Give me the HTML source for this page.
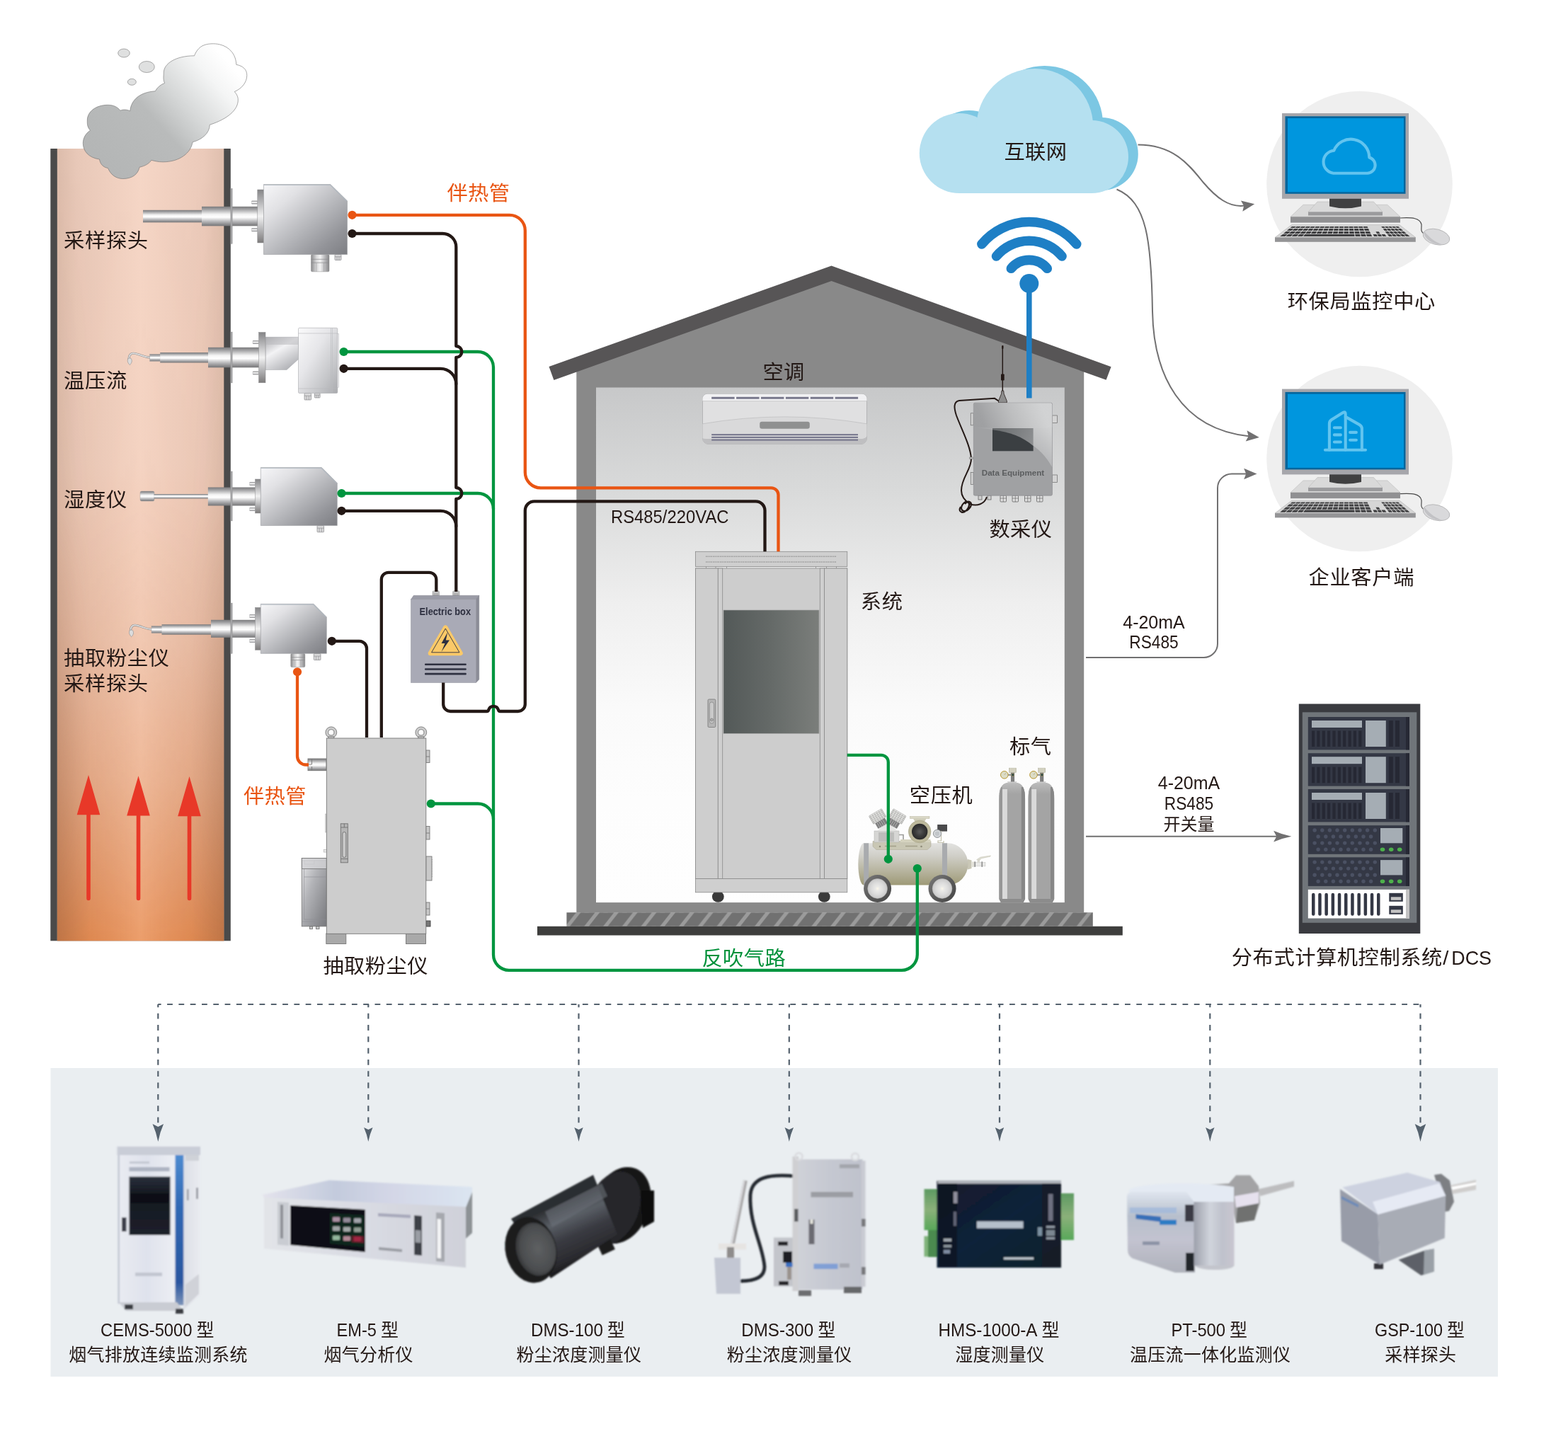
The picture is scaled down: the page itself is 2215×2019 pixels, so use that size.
<!DOCTYPE html>
<html lang="zh-CN">
<head>
<meta charset="utf-8">
<title>CEMS 烟气排放连续监测系统</title>
<style>
html,body{margin:0;padding:0;background:#fff;}
body{width:2215px;height:2019px;overflow:hidden;font-family:"Liberation Sans","Noto Sans CJK SC",sans-serif;}
svg{display:block;}
text{font-family:"Liberation Sans","Noto Sans CJK SC",sans-serif;fill:#231815;}
.t30{font-size:30px;}
.t25{font-size:25px;}
.t24{font-size:24px;}
.o{fill:#e95513;}
.g{fill:#00913a;}
.lk{fill:none;stroke:#231815;stroke-width:4.3;stroke-linecap:round;stroke-linejoin:round;}
.lg{fill:none;stroke:#00953f;stroke-width:4.3;stroke-linecap:round;stroke-linejoin:round;}
.lo{fill:none;stroke:#e95513;stroke-width:4.3;stroke-linecap:round;stroke-linejoin:round;}
.la{fill:none;stroke:#717071;stroke-width:2;}
.ld{fill:none;stroke:#55626e;stroke-width:2.2;stroke-dasharray:7.8 8.5;stroke-dashoffset:3.5;}
</style>
</head>
<body>
<svg width="2215" height="2019" viewBox="0 0 2215 2019">
<defs>
<linearGradient id="chH" x1="0" y1="0" x2="1" y2="0">
<stop offset="0" stop-color="#dcbcab"/><stop offset="0.12" stop-color="#e8c8b8"/><stop offset="0.5" stop-color="#f5d6c6"/><stop offset="0.88" stop-color="#ebcaba"/><stop offset="1" stop-color="#dfbfae"/></linearGradient>
<linearGradient id="chV" x1="0" y1="0" x2="0" y2="1">
<stop offset="0" stop-color="#e0793a" stop-opacity="0"/><stop offset="0.4" stop-color="#e0793a" stop-opacity="0.03"/><stop offset="0.62" stop-color="#e07a3c" stop-opacity="0.17"/><stop offset="0.8" stop-color="#e27a38" stop-opacity="0.38"/><stop offset="0.92" stop-color="#e47a36" stop-opacity="0.6"/><stop offset="1" stop-color="#e67a32" stop-opacity="0.75"/></linearGradient>
<linearGradient id="chE" x1="0" y1="0" x2="1" y2="0">
<stop offset="0" stop-color="#7a4a30" stop-opacity="0.35"/><stop offset="0.2" stop-color="#7a4a30" stop-opacity="0.08"/><stop offset="0.5" stop-color="#fff" stop-opacity="0.12"/><stop offset="0.8" stop-color="#7a4a30" stop-opacity="0.08"/><stop offset="1" stop-color="#7a4a30" stop-opacity="0.35"/></linearGradient>
<linearGradient id="chM" x1="0" y1="0" x2="0" y2="1"><stop offset="0" stop-color="#fff" stop-opacity="0"/><stop offset="0.45" stop-color="#fff" stop-opacity="0.1"/><stop offset="1" stop-color="#fff" stop-opacity="1"/></linearGradient>
<mask id="chMask"><rect x="81" y="210" width="236" height="1120" fill="url(#chM)"/></mask>
<linearGradient id="smk" gradientUnits="userSpaceOnUse" x1="150" y1="235" x2="320" y2="85">
<stop offset="0" stop-color="#b4b6b6"/><stop offset="0.42" stop-color="#b9bbbb"/><stop offset="0.62" stop-color="#d6d8d8"/><stop offset="0.85" stop-color="#f4f5f5"/><stop offset="1" stop-color="#ffffff"/></linearGradient>
<linearGradient id="hInt" x1="0" y1="0" x2="0" y2="1">
<stop offset="0" stop-color="#c7c8c9"/><stop offset="0.2" stop-color="#d9dada"/><stop offset="0.42" stop-color="#efefef"/><stop offset="0.62" stop-color="#fafafa"/><stop offset="0.8" stop-color="#fdfdfd"/><stop offset="1" stop-color="#fefefe"/></linearGradient>
<pattern id="hatch" patternUnits="userSpaceOnUse" x="800.4" y="1289.2" width="26.75" height="19.6">
<rect width="26.75" height="19.6" fill="#717171"/>
<path d="M-2 19.6 L13.5 0 L20 0 L4.5 19.6 Z M24.75 19.6 L40.25 0 L46.75 0 L31.25 19.6 Z M-28.75 19.6 L-13.25 0 L-6.75 0 L-22.25 19.6 Z" fill="#9b9b9b"/></pattern>
<linearGradient id="cabWin" x1="0" y1="0" x2="1" y2="0"><stop offset="0" stop-color="#535958"/><stop offset="0.5" stop-color="#656a68"/><stop offset="1" stop-color="#7b7e7b"/></linearGradient>
<linearGradient id="tank" x1="0" y1="0" x2="0" y2="1"><stop offset="0" stop-color="#e2e2e0"/><stop offset="0.3" stop-color="#d0cfc8"/><stop offset="0.7" stop-color="#b4b19a"/><stop offset="1" stop-color="#9d9976"/></linearGradient>
<linearGradient id="tire" x1="0" y1="0" x2="1" y2="1"><stop offset="0" stop-color="#7a7a7a"/><stop offset="0.5" stop-color="#5b5b5b"/><stop offset="1" stop-color="#474747"/></linearGradient>
<radialGradient id="hub"><stop offset="0" stop-color="#fbf7ea"/><stop offset="0.22" stop-color="#e9e9e7"/><stop offset="0.6" stop-color="#dcdcdc"/><stop offset="1" stop-color="#c9c9c9"/></radialGradient>
<radialGradient id="mot"><stop offset="0" stop-color="#5a5a5a"/><stop offset="0.6" stop-color="#3a3a3a"/><stop offset="1" stop-color="#2a2a2a"/></radialGradient>
<linearGradient id="cylTop" x1="0" y1="0" x2="0" y2="1"><stop offset="0" stop-color="#c4c4c4"/><stop offset="0.5" stop-color="#b4b4b4"/><stop offset="1" stop-color="#a4a4a4"/></linearGradient>
<linearGradient id="cyl" x1="0" y1="0" x2="1" y2="0"><stop offset="0" stop-color="#9a9a9a"/><stop offset="0.1" stop-color="#a4a4a4"/><stop offset="0.12" stop-color="#dadada"/><stop offset="0.3" stop-color="#d8d8d8"/><stop offset="0.32" stop-color="#a6a6a6"/><stop offset="0.86" stop-color="#a2a2a2"/><stop offset="0.88" stop-color="#8a8a8a"/><stop offset="1" stop-color="#858585"/></linearGradient>
<linearGradient id="deq" x1="0" y1="0" x2="1" y2="0.6"><stop offset="0" stop-color="#a0a1a3"/><stop offset="1" stop-color="#9c9d9f"/></linearGradient>
<linearGradient id="deqTop" gradientUnits="userSpaceOnUse" x1="1390" y1="600" x2="1470" y2="570"><stop offset="0" stop-color="#9e9fa1"/><stop offset="0.5" stop-color="#bdbebf"/><stop offset="1" stop-color="#d2d3d4"/></linearGradient>
<linearGradient id="deqR" gradientUnits="userSpaceOnUse" x1="1440" y1="660" x2="1487" y2="610"><stop offset="0" stop-color="#a2a3a5"/><stop offset="1" stop-color="#cfd0d1"/></linearGradient>
<linearGradient id="deqScr" gradientUnits="userSpaceOnUse" x1="1410" y1="605" x2="1460" y2="625"><stop offset="0" stop-color="#6b6e70"/><stop offset="1" stop-color="#8e9092"/></linearGradient>
<linearGradient id="metal" x1="0" y1="0" x2="0" y2="1">
<stop offset="0" stop-color="#7b7b7d"/><stop offset="0.12" stop-color="#9a9a9c"/><stop offset="0.4" stop-color="#f4f4f4"/><stop offset="0.55" stop-color="#ffffff"/><stop offset="0.75" stop-color="#bdbdbf"/><stop offset="0.92" stop-color="#8a8a8c"/><stop offset="1" stop-color="#767678"/></linearGradient>
<linearGradient id="flg" x1="0" y1="0" x2="0" y2="1"><stop offset="0" stop-color="#858587"/><stop offset="0.25" stop-color="#b9b9bb"/><stop offset="0.5" stop-color="#f2f2f2"/><stop offset="0.75" stop-color="#b5b5b7"/><stop offset="1" stop-color="#7d7b7b"/></linearGradient>
<linearGradient id="metalH" x1="0" y1="0" x2="1" y2="0">
<stop offset="0" stop-color="#8a8a8c"/><stop offset="0.3" stop-color="#d9d9da"/><stop offset="0.5" stop-color="#f4f4f4"/><stop offset="0.7" stop-color="#c5c5c7"/><stop offset="1" stop-color="#858587"/></linearGradient>
<linearGradient id="pbox" x1="0" y1="0" x2="1" y2="1">
<stop offset="0" stop-color="#f7f7f9"/><stop offset="0.25" stop-color="#e1e1e4"/><stop offset="0.55" stop-color="#b6b7bb"/><stop offset="0.8" stop-color="#939499"/><stop offset="1" stop-color="#7d7e83"/></linearGradient>
<linearGradient id="pbox2" x1="0" y1="0" x2="1" y2="1">
<stop offset="0" stop-color="#fafafb"/><stop offset="0.4" stop-color="#e6e6e9"/><stop offset="0.75" stop-color="#c4c5c8"/><stop offset="1" stop-color="#a9aaae"/></linearGradient>
<linearGradient id="neck" x1="0" y1="0" x2="0.6" y2="1">
<stop offset="0" stop-color="#9fa0a3"/><stop offset="0.2" stop-color="#c9c9cc"/><stop offset="0.45" stop-color="#f3f3f5"/><stop offset="1" stop-color="#b4b5b9"/></linearGradient>
<linearGradient id="pump" x1="0" y1="0" x2="1" y2="1"><stop offset="0" stop-color="#e9e9eb"/><stop offset="0.4" stop-color="#b2b3b7"/><stop offset="1" stop-color="#77787c"/></linearGradient>
<path id="aheads" d="M0 0 L-18.300 -7.650 L-15.300 0 L-18.300 7.650 Z"/>
<path id="ahead" d="M0 0 Q-13 -2.400 -25.300 -7.900 L-21.100 0 L-25.300 7.900 Q-13 2.400 0 0 Z"/>
<path id="dhead" d="M0 0 Q-2.400 -13 -7.800 -25.100 L0 -21.100 L7.800 -25.100 Q2.400 -13 0 0 Z"/>
<linearGradient id="cemsF" x1="0" y1="0" x2="1" y2="0"><stop offset="0" stop-color="#eef0f5"/><stop offset="0.5" stop-color="#e3e6ee"/><stop offset="1" stop-color="#eceef3"/></linearGradient>
<linearGradient id="cemsB" x1="0" y1="0" x2="0" y2="1"><stop offset="0" stop-color="#3f7fc8"/><stop offset="0.5" stop-color="#2d63ae"/><stop offset="0.85" stop-color="#28549c"/><stop offset="1" stop-color="#8aa0c0"/></linearGradient>
<linearGradient id="em5T" x1="0" y1="0" x2="1" y2="0"><stop offset="0" stop-color="#dfe1ea"/><stop offset="0.4" stop-color="#c9cdda"/><stop offset="1" stop-color="#e6e8ef"/></linearGradient>
<linearGradient id="dms" x1="0" y1="0" x2="1" y2="1"><stop offset="0" stop-color="#3a3c3e"/><stop offset="0.5" stop-color="#232527"/><stop offset="1" stop-color="#0c0d0e"/></linearGradient>
<radialGradient id="lens" cx="0.45" cy="0.45"><stop offset="0" stop-color="#5d5f61"/><stop offset="0.7" stop-color="#3b3d3f"/><stop offset="1" stop-color="#1b1c1d"/></radialGradient>
<linearGradient id="hms" x1="0" y1="0" x2="1" y2="1"><stop offset="0" stop-color="#0b1a22"/><stop offset="0.5" stop-color="#13283a"/><stop offset="1" stop-color="#0a1620"/></linearGradient>
<linearGradient id="ptC" x1="0" y1="0" x2="1" y2="0"><stop offset="0" stop-color="#b5b8c0"/><stop offset="0.35" stop-color="#eef0f3"/><stop offset="0.7" stop-color="#c4c7cf"/><stop offset="1" stop-color="#9fa2ab"/></linearGradient>
<linearGradient id="gspT" x1="0" y1="0" x2="1" y2="1"><stop offset="0" stop-color="#d7dae2"/><stop offset="1" stop-color="#bcc0cb"/></linearGradient>
<linearGradient id="gspF" x1="0" y1="0" x2="1" y2="1"><stop offset="0" stop-color="#b9bdc8"/><stop offset="1" stop-color="#9ea3b0"/></linearGradient>
<filter id="soft" x="-5%" y="-5%" width="110%" height="110%"><feGaussianBlur stdDeviation="0.9"/></filter>
<linearGradient id="phA" x1="0" y1="0" x2="1" y2="0"><stop offset="0" stop-color="#e9ebf2"/><stop offset="0.5" stop-color="#dfe2ec"/><stop offset="1" stop-color="#eceef4"/></linearGradient>
<linearGradient id="phB" x1="0" y1="0" x2="0" y2="1"><stop offset="0" stop-color="#4d8bd0"/><stop offset="0.35" stop-color="#2f68b4"/><stop offset="0.85" stop-color="#2a57a0"/><stop offset="1" stop-color="#7d93b8"/></linearGradient>
<linearGradient id="phW" x1="0" y1="0" x2="0" y2="1"><stop offset="0" stop-color="#2a303c"/><stop offset="0.3" stop-color="#141820"/><stop offset="1" stop-color="#1d212b"/></linearGradient>
<linearGradient id="phS" x1="0" y1="0" x2="1" y2="0"><stop offset="0" stop-color="#dcdfe6"/><stop offset="1" stop-color="#e9ebf0"/></linearGradient>
<linearGradient id="emT" x1="0" y1="0" x2="1" y2="0"><stop offset="0" stop-color="#e4e3ec"/><stop offset="0.35" stop-color="#c3cbdd"/><stop offset="0.6" stop-color="#d3d6e6"/><stop offset="1" stop-color="#dbe5f1"/></linearGradient>
<linearGradient id="emF" x1="0" y1="0" x2="1" y2="0"><stop offset="0" stop-color="#e2e4e8"/><stop offset="0.5" stop-color="#d9dbe3"/><stop offset="1" stop-color="#cfd1d9"/></linearGradient>
<linearGradient id="dmB" gradientUnits="userSpaceOnUse" x1="790" y1="1700" x2="830" y2="1790"><stop offset="0" stop-color="#2b2d30"/><stop offset="0.25" stop-color="#5a5f66"/><stop offset="0.5" stop-color="#3a3b42"/><stop offset="0.8" stop-color="#2a2a2e"/><stop offset="1" stop-color="#0d0d0f"/></linearGradient>
<radialGradient id="dmL" cx="0.55" cy="0.5" r="0.6"><stop offset="0" stop-color="#5e6062"/><stop offset="0.7" stop-color="#4b4d4f"/><stop offset="1" stop-color="#2a2b2d"/></radialGradient>
<linearGradient id="d3B" x1="0" y1="0" x2="1" y2="0"><stop offset="0" stop-color="#cfd1d8"/><stop offset="0.5" stop-color="#c5c8d1"/><stop offset="1" stop-color="#bfc2cc"/></linearGradient>
<linearGradient id="hmB" x1="0" y1="0" x2="1" y2="1"><stop offset="0" stop-color="#14172a"/><stop offset="0.5" stop-color="#10233a"/><stop offset="1" stop-color="#0d1f2a"/></linearGradient>
<linearGradient id="hmG" x1="0" y1="0" x2="0" y2="1"><stop offset="0" stop-color="#5d9a62"/><stop offset="0.5" stop-color="#8bb07a"/><stop offset="1" stop-color="#58a85a"/></linearGradient>
<linearGradient id="ptL" x1="0" y1="0" x2="0" y2="1"><stop offset="0" stop-color="#dfe5ee"/><stop offset="0.3" stop-color="#b7bfcc"/><stop offset="0.6" stop-color="#c3c3d0"/><stop offset="1" stop-color="#aeb1ba"/></linearGradient>
<linearGradient id="ptC2" x1="0" y1="0" x2="1" y2="0"><stop offset="0" stop-color="#9da0ab"/><stop offset="0.4" stop-color="#d0d4dc"/><stop offset="0.7" stop-color="#bfc2cc"/><stop offset="1" stop-color="#c9c6d0"/></linearGradient>
<filter id="ph" x="-10%" y="-10%" width="120%" height="120%"><feGaussianBlur stdDeviation="1.1"/></filter>
</defs>
<g id="chimney">
<rect x="71.3" y="210" width="254.5" height="1119.3" fill="#4a4a4a"/>
<rect x="80.8" y="210" width="235.5" height="1119.3" fill="url(#chH)"/>
<rect x="80.8" y="210" width="235.5" height="1119.3" fill="url(#chV)"/>
<rect x="80.8" y="210" width="235.5" height="1119.3" fill="url(#chE)" mask="url(#chMask)"/>
<path d="M125 1095 L141.3 1151.3 L127.8 1151.3 L127.8 1269.5 A2.8 2.8 0 0 1 122.2 1269.5 L122.2 1151.3 L108.7 1151.3 Z" fill="#e83828"/>
<path d="M195.5 1096.2 L211.8 1152.5 L198.3 1152.5 L198.3 1269.5 A2.8 2.8 0 0 1 192.7 1269.5 L192.7 1152.5 L179.2 1152.5 Z" fill="#e83828"/>
<path d="M267.5 1097 L283.8 1153.3 L270.3 1153.3 L270.3 1269.5 A2.8 2.8 0 0 1 264.7 1269.5 L264.7 1153.3 L251.2 1153.3 Z" fill="#e83828"/>
<path d="M274.5 78.8 C280 65 289 61.8 301.3 61.8 C318 61.8 333 72 333.8 91.3
C343 93 348.8 98 348.8 106.3 C348.8 116 342 125 331.3 129.5
C335 134 336.3 137 336.3 141.3 C336.3 155 322 168 296.3 176.3
C296 188 286 197 272 200.8
C270 215 255 228.8 230 228.8 C224 228.8 218 227.5 213.8 226.3
C211 231 205 234.5 197 236.3
C195 246 187 252.5 173.8 252.5 C163 252.5 156 246 152.5 237.5
C146 236.5 141.5 232 140.5 225
C125 223 117.3 213 117.3 202.5 C117.3 195 121 188.5 127.5 184.3
C123 179 123.3 175 123.3 170 C123.3 158 135 148.3 152.5 148.3 C160 148.3 166 151 170 156.3
C173 154.5 179 154.5 183.8 156.8
C185 141 198 130 219.3 128.8
C222 123.5 227 119.5 232.5 117.5
C230 111 231.3 108 231.3 102.5 C231.3 90 248 78.8 274.5 78.8 Z" fill="url(#smk)" stroke="#6e6e6e" stroke-width="0.6"/>
<ellipse cx="175" cy="75" rx="8.3" ry="6" fill="#dfe0e0" stroke="#777" stroke-width="0.6"/>
<ellipse cx="207.3" cy="94.5" rx="11" ry="8" fill="#dfe0e0" stroke="#777" stroke-width="0.6"/>
<ellipse cx="186.3" cy="115.8" rx="6" ry="4.5" fill="#dfe0e0" stroke="#777" stroke-width="0.6"/>
</g>
<g id="house">
<path d="M814.3 1289.2 L814.3 524 L1174.5 392 L1531.2 522 L1531.2 1289.2 Z" fill="#898989"/>
<rect x="842" y="547.5" width="661.8" height="727.6" fill="url(#hInt)"/>
<path d="M775.5 518 L1174.5 375.5 L1569.6 518.2 L1562.6 536.8 L1174.5 397 L782.4 537 Z" fill="#575556"/>
<rect x="800.4" y="1289.2" width="743.4" height="19.6" fill="url(#hatch)"/>
<rect x="759" y="1308.8" width="826.8" height="12.7" fill="#3e3e3d"/>
</g>
<g id="ac">
<path d="M999 556.8 H1218 A6.5 6.5 0 0 1 1224.5 563.3 V619 A8.5 8.5 0 0 1 1216 627.5 H1001 A8.5 8.5 0 0 1 992.5 619 V563.3 A6.5 6.5 0 0 1 999 556.8 Z" fill="#e0e0e1" stroke="#9d9d9f" stroke-width="0.6"/>
<path d="M999 556.8 H1218 A6.5 6.5 0 0 1 1224.5 563.3 V566.6 H992.5 V563.3 A6.5 6.5 0 0 1 999 556.8 Z" fill="#f1f1f3"/>
<path d="M992.5 566.6 H1224.5" stroke="#b9b9bb" stroke-width="0.6" fill="none"/>
<path d="M992.5 619 Q993 619.5 1001 620 H1216 Q1223 619.5 1224.5 616 V619 A8.5 8.5 0 0 1 1216 627.5 H1001 A8.5 8.5 0 0 1 992.5 619 Z" fill="#bfbfc1"/>
<path d="M992.500 598.800 Q1108 579.500 1224.500 598.800 V616 Q1223 619.500 1216 620 H1001 Q993 619.500 992.500 619 Z" fill="#d9d9da"/>
<path d="M992.5 598.8 Q1108 579 1224.5 598.8" stroke="#b5b5b7" stroke-width="0.6" fill="none"/>
<rect x="1005.2" y="560.8" width="32.4" height="2.9" fill="#76768a"/>
<rect x="1040.1" y="560.8" width="32.4" height="2.9" fill="#76768a"/>
<rect x="1075.0" y="560.8" width="32.4" height="2.9" fill="#76768a"/>
<rect x="1109.9" y="560.8" width="32.4" height="2.9" fill="#76768a"/>
<rect x="1144.8" y="560.8" width="32.4" height="2.9" fill="#76768a"/>
<rect x="1179.7" y="560.8" width="32.4" height="2.9" fill="#76768a"/>
<rect x="1073.2" y="595.8" width="70.6" height="10" rx="3" fill="#8f9090"/>
<rect x="1005.2" y="613.2" width="206.8" height="2" fill="#73738a"/>
<rect x="1005.2" y="616.9" width="206.8" height="2" fill="#73738a"/>
<rect x="1005.2" y="620.6" width="206.8" height="2" fill="#73738a"/>
</g>
<g id="cabinet" stroke="#8a8a8a" stroke-width="0.8">
<ellipse cx="1014.300" cy="1266.800" rx="8.400" ry="8" fill="#3a3a3a" stroke="none"/><ellipse cx="1164.300" cy="1266.800" rx="8.400" ry="8" fill="#3a3a3a" stroke="none"/>
<rect x="982.5" y="803" width="214.3" height="438.6" fill="#cdcdcd"/>
<rect x="982.5" y="803" width="31.8" height="438.6" fill="#cecece"/>
<rect x="1014.3" y="803" width="6.4" height="438.6" fill="#cfcfcf"/>
<rect x="1158.3" y="803" width="6.3" height="438.6" fill="#cfcfcf"/>
<rect x="1164.6" y="803" width="32.2" height="438.6" fill="#cecece"/>
<rect x="982.5" y="1241.6" width="214.3" height="19.2" fill="#cfcfcf"/>
<rect x="982.5" y="779.3" width="214.3" height="21.2" fill="#cfcfcf"/>
<path d="M997.5 800.5 V803 M1011 800.5 V803 M1026.5 800.5 V803 M1152.5 800.5 V803 M1167.5 800.5 V803 M1181.5 800.5 V803" fill="none"/>
<path d="M997 786.3 H1182 M997 794 H1182" stroke="#9a9a9a" stroke-width="1.6" stroke-dasharray="1.5 1" fill="none"/>
<rect x="1022" y="862" width="135" height="174.3" fill="url(#cabWin)" stroke="#a0a0a0" stroke-width="0.6"/>
<rect x="1000" y="988" width="10.8" height="39.5" rx="1.5" fill="#b5b5b5" stroke="#777"/>
<rect x="1002.3" y="992" width="6.2" height="30" rx="3" fill="#c9c9c9" stroke="#777" stroke-width="0.6"/>
<circle cx="1005.4" cy="1017" r="2" fill="#aaa" stroke="#666" stroke-width="0.5"/>
</g>
<g id="compressor">
<path d="M1367 1214 L1372.500 1215.500 V1227 L1367 1228.500 Z" fill="#c9c7b6"/>
<rect x="1372.500" y="1217.500" width="4" height="7.500" fill="#e4e3da"/>
<rect x="1376" y="1218.300" width="16" height="5.600" fill="#e9e9e7" stroke="#b9b9b5" stroke-width="0.400"/>
<rect x="1376.500" y="1217.300" width="1.500" height="7.600" fill="#8b8b8b"/><rect x="1386.500" y="1217.300" width="1.500" height="7.600" fill="#8b8b8b"/>
<rect x="1380.500" y="1214.500" width="3.500" height="4" fill="#dcdbd2"/>
<path d="M1379.500 1214.500 L1385 1211 L1399.500 1208.800 L1399 1210.200 L1386 1213 L1384.500 1215 Z" fill="#dddcd0" stroke="#b5b3a2" stroke-width="0.300"/>
<path d="M1220.200 1191.300 H1338.600 A28.900 29.650 0 0 1 1338.600 1250.600 H1220.200 A7.900 29.650 0 0 1 1220.200 1191.300 Z" fill="url(#tank)"/>
<rect x="1220.200" y="1191.300" width="6.900" height="59.300" fill="#a9abae"/><rect x="1331" y="1191.300" width="7" height="59.300" fill="#a9abae"/>
<path d="M1233 1188.5 H1315 V1196 L1310 1200.5 H1238 L1233 1196 Z" fill="#c9c7b4" stroke="#aaa794" stroke-width="0.5"/>
<path d="M1250 1195.5 H1266 M1279 1195.5 H1296" stroke="#a29f88" stroke-width="1.3"/>
<circle cx="1243" cy="1196" r="1.3" fill="#8d8a78"/><circle cx="1301.5" cy="1196" r="1.3" fill="#8d8a78"/>
<rect x="1235" y="1174" width="35" height="16" fill="#d6d6d4" stroke="#b0b0ac" stroke-width="0.5"/>
<rect x="1241" y="1176" width="22" height="13" fill="#bdbdbb"/>
<path d="M1253.500 1162 L1268 1174 H1239 Z" fill="#e6e6e4"/>
<path d="M1270 1179.5 H1276 V1187" fill="none" stroke="#9b9b98" stroke-width="1.6"/>
<g transform="translate(1253.700 1178) rotate(-30)"><rect x="-7.800" y="-22" width="15.600" height="9.500" fill="#8f8f8f"/><path d="M-7.800 -20.5 H7.800" stroke="#5e5e5e" stroke-width="0.700"/><path d="M-7.800 -18.5 H7.800" stroke="#5e5e5e" stroke-width="0.700"/><path d="M-7.800 -16.5 H7.800" stroke="#5e5e5e" stroke-width="0.700"/><path d="M-7.800 -14.5 H7.800" stroke="#5e5e5e" stroke-width="0.700"/><path d="M-5 -22 V-12.500" stroke="#c9c9c9" stroke-width="0.600"/><path d="M-2 -22 V-12.500" stroke="#c9c9c9" stroke-width="0.600"/><path d="M1 -22 V-12.500" stroke="#c9c9c9" stroke-width="0.600"/><path d="M4 -22 V-12.500" stroke="#c9c9c9" stroke-width="0.600"/><rect x="-10.500" y="-35" width="21" height="13.500" rx="1.200" fill="#d2d2d0" stroke="#a9a9a7" stroke-width="0.400"/><path d="M-10.500 -32.5 H10.500" stroke="#9a9a98" stroke-width="0.600"/><path d="M-10.500 -30 H10.500" stroke="#9a9a98" stroke-width="0.600"/><path d="M-10.500 -27.5 H10.500" stroke="#9a9a98" stroke-width="0.600"/><path d="M-10.500 -25 H10.500" stroke="#9a9a98" stroke-width="0.600"/><path d="M-10.500 -23 H10.500" stroke="#9a9a98" stroke-width="0.600"/><path d="M-7 -35 V-21.500" stroke="#efefed" stroke-width="0.700"/><path d="M-3.5 -35 V-21.500" stroke="#efefed" stroke-width="0.700"/><path d="M0 -35 V-21.500" stroke="#efefed" stroke-width="0.700"/><path d="M3.5 -35 V-21.500" stroke="#efefed" stroke-width="0.700"/><path d="M7 -35 V-21.500" stroke="#efefed" stroke-width="0.700"/></g>
<g transform="translate(1253.700 1178) rotate(30)"><rect x="-7.800" y="-22" width="15.600" height="9.500" fill="#8f8f8f"/><path d="M-7.800 -20.5 H7.800" stroke="#5e5e5e" stroke-width="0.700"/><path d="M-7.800 -18.5 H7.800" stroke="#5e5e5e" stroke-width="0.700"/><path d="M-7.800 -16.5 H7.800" stroke="#5e5e5e" stroke-width="0.700"/><path d="M-7.800 -14.5 H7.800" stroke="#5e5e5e" stroke-width="0.700"/><path d="M-5 -22 V-12.500" stroke="#c9c9c9" stroke-width="0.600"/><path d="M-2 -22 V-12.500" stroke="#c9c9c9" stroke-width="0.600"/><path d="M1 -22 V-12.500" stroke="#c9c9c9" stroke-width="0.600"/><path d="M4 -22 V-12.500" stroke="#c9c9c9" stroke-width="0.600"/><rect x="-10.500" y="-35" width="21" height="13.500" rx="1.200" fill="#d2d2d0" stroke="#a9a9a7" stroke-width="0.400"/><path d="M-10.500 -32.5 H10.500" stroke="#9a9a98" stroke-width="0.600"/><path d="M-10.500 -30 H10.500" stroke="#9a9a98" stroke-width="0.600"/><path d="M-10.500 -27.5 H10.500" stroke="#9a9a98" stroke-width="0.600"/><path d="M-10.500 -25 H10.500" stroke="#9a9a98" stroke-width="0.600"/><path d="M-10.500 -23 H10.500" stroke="#9a9a98" stroke-width="0.600"/><path d="M-7 -35 V-21.500" stroke="#efefed" stroke-width="0.700"/><path d="M-3.5 -35 V-21.500" stroke="#efefed" stroke-width="0.700"/><path d="M0 -35 V-21.500" stroke="#efefed" stroke-width="0.700"/><path d="M3.5 -35 V-21.500" stroke="#efefed" stroke-width="0.700"/><path d="M7 -35 V-21.500" stroke="#efefed" stroke-width="0.700"/></g>
<rect x="1285.5" y="1153.5" width="27.5" height="3" fill="#dad8c6" stroke="#b1ae98" stroke-width="0.4"/>
<path d="M1290 1156.5 H1308.5 L1306 1161 H1292.500 Z" fill="#cfcdb9"/>
<path d="M1272 1186 H1314.500 V1190 H1272 Z" fill="#d5d3bf"/>
<circle cx="1299.2" cy="1175" r="15.8" fill="#bdb99c" stroke="#a5a184" stroke-width="0.6"/>
<circle cx="1299.2" cy="1175" r="11.2" fill="url(#mot)"/>
<rect x="1324.2" y="1165" width="13.8" height="9.6" fill="#4a4a4c"/>
<path d="M1329.5 1174 V1188 H1325 V1190.500 H1333 V1188" fill="none" stroke="#c3c1ad" stroke-width="1.2"/>
<circle cx="1324" cy="1177.800" r="5.6" fill="#d6d9dc" stroke="#8e9296" stroke-width="1"/>
<circle cx="1324" cy="1177.800" r="3.2" fill="#c2c6ca"/>
<circle cx="1239.6" cy="1255.500" r="19.500" fill="url(#tire)"/><circle cx="1239.6" cy="1255.500" r="13.900" fill="url(#hub)" stroke="#b5b5b5" stroke-width="0.500"/>
<circle cx="1331" cy="1255.500" r="19.500" fill="url(#tire)"/><circle cx="1331" cy="1255.500" r="13.900" fill="url(#hub)" stroke="#b5b5b5" stroke-width="0.500"/>
</g>
<g id="cylinders">
<clipPath id="cyc1411"><path d="M1411.3 1270 V1129 C1411.3 1114 1414.8 1107.500 1423.3 1106 H1436.1 C1444.6 1107.500 1448.1 1114 1448.1 1129 V1270 L1445.6 1275 H1413.8 Z"/></clipPath>
<path d="M1411.3 1270 V1129 C1411.3 1114 1414.8 1107.500 1423.3 1106 H1436.1 C1444.6 1107.500 1448.1 1114 1448.1 1129 V1270 L1445.6 1275 H1413.8 Z" fill="#a4a4a4"/>
<g clip-path="url(#cyc1411)">
<rect x="1411.3" y="1100" width="36.8" height="22" fill="url(#cylTop)"/>
<rect x="1411.3" y="1112" width="4.700" height="165" fill="#979797"/>
<rect x="1416.0" y="1115" width="6.900" height="160" fill="#dadada"/>
<rect x="1442.8" y="1112" width="5.300" height="165" fill="#878787"/>
<path d="M1411.3 1270 L1413.8 1275 H1445.6 L1448.1 1270 Z" fill="#8c8c8c"/>
</g>
<path d="M1422.8 1104.300 H1436.6 L1435.6 1106.200 H1423.8 Z" fill="#c9c9c9"/>
<rect x="1427.9" y="1091" width="5.200" height="13.500" fill="#7d7d7d"/>
<rect x="1425.5" y="1085.100" width="10" height="6.500" fill="#c9c7b4" stroke="#a9a795" stroke-width="0.400"/>
<path d="M1427.5 1085.100 V1091.600 M1429.5 1085.100 V1091.600 M1431.5 1085.100 V1091.600 M1433.5 1085.100 V1091.600" stroke="#e6e5d8" stroke-width="0.700"/>
<rect x="1423.5" y="1093.600" width="5" height="2.400" fill="#9a9a9a"/>
<circle cx="1430.7" cy="1094.800" r="1.800" fill="#1d4250" stroke="#b8962e" stroke-width="0.500"/>
<circle cx="1418.8" cy="1094.800" r="5.300" fill="#dcdcc6" stroke="#b8962e" stroke-width="1"/>
<path d="M1418.8 1094.800 L1421.0 1092.300" stroke="#8a7a3a" stroke-width="0.500"/>
<clipPath id="cyc1452"><path d="M1452.5 1270 V1129 C1452.5 1114 1456.0 1107.500 1464.5 1106 H1477.3 C1485.8 1107.500 1489.3 1114 1489.3 1129 V1270 L1486.8 1275 H1455.0 Z"/></clipPath>
<path d="M1452.5 1270 V1129 C1452.5 1114 1456.0 1107.500 1464.5 1106 H1477.3 C1485.8 1107.500 1489.3 1114 1489.3 1129 V1270 L1486.8 1275 H1455.0 Z" fill="#a4a4a4"/>
<g clip-path="url(#cyc1452)">
<rect x="1452.5" y="1100" width="36.8" height="22" fill="url(#cylTop)"/>
<rect x="1452.5" y="1112" width="4.700" height="165" fill="#979797"/>
<rect x="1457.2" y="1115" width="6.900" height="160" fill="#dadada"/>
<rect x="1484.0" y="1112" width="5.300" height="165" fill="#878787"/>
<path d="M1452.5 1270 L1455.0 1275 H1486.8 L1489.3 1270 Z" fill="#8c8c8c"/>
</g>
<path d="M1464.0 1104.300 H1477.8 L1476.8 1106.200 H1465.0 Z" fill="#c9c9c9"/>
<rect x="1469.1000000000001" y="1091" width="5.200" height="13.500" fill="#7d7d7d"/>
<rect x="1466.7" y="1085.100" width="10" height="6.500" fill="#c9c7b4" stroke="#a9a795" stroke-width="0.400"/>
<path d="M1468.7 1085.100 V1091.600 M1470.7 1085.100 V1091.600 M1472.7 1085.100 V1091.600 M1474.7 1085.100 V1091.600" stroke="#e6e5d8" stroke-width="0.700"/>
<rect x="1464.7" y="1093.600" width="5" height="2.400" fill="#9a9a9a"/>
<circle cx="1471.9" cy="1094.800" r="1.800" fill="#1d4250" stroke="#b8962e" stroke-width="0.500"/>
<circle cx="1460.0" cy="1094.800" r="5.300" fill="#dcdcc6" stroke="#b8962e" stroke-width="1"/>
<path d="M1460.0 1094.800 L1462.2 1092.300" stroke="#8a7a3a" stroke-width="0.500"/>
</g>
<g id="dataeq" opacity="0.999">
<path d="M1413 568 L1405 562.800 L1355 566 C1346 567.500 1348 578 1351 587 C1358 606 1371 630 1372 648 C1372 664 1358 675 1358 693 C1358 702 1364 708 1370 712 C1380 716 1391 712 1394 702" fill="none" stroke="#231815" stroke-width="2"/>
<path d="M1357 716 C1352 724 1362 728 1368 717 C1372 708 1364 706 1359 714 C1355 722 1364 726 1371 716 C1374 709 1368 706 1363 712" fill="none" stroke="#231815" stroke-width="2.2"/>
<path d="M1416.300 489 V556" stroke="#231815" stroke-width="1.5"/>
<rect x="1415.200" y="488" width="2.300" height="5" rx="1" fill="#231815"/>
<rect x="1414" y="528.500" width="4.700" height="9" rx="0.800" fill="#231815"/>
<path d="M1415 552 H1417.700 L1418.200 556.500 L1422.300 566.500 V569 H1410.500 V566.500 L1414.500 556.500 Z" fill="#8d8d8d" stroke="#231815" stroke-width="0.8"/>
<rect x="1371.3" y="583.8" width="3.8" height="17" fill="#d4d4d4" stroke="#6b6b6b" stroke-width="0.7"/>
<rect x="1371.3" y="667.5" width="3.8" height="17" fill="#d4d4d4" stroke="#6b6b6b" stroke-width="0.7"/>
<rect x="1486.5" y="587" width="7" height="10.5" fill="#d4d4d4" stroke="#6b6b6b" stroke-width="0.7"/>
<rect x="1486.5" y="671" width="7" height="10.5" fill="#d4d4d4" stroke="#6b6b6b" stroke-width="0.7"/>
<rect x="1369.500" y="646" width="5.500" height="2.5" fill="#bbb" stroke="#777" stroke-width="0.5"/>
<rect x="1382" y="700" width="5" height="6" fill="#d0d0d0" stroke="#555" stroke-width="0.7"/>
<rect x="1395" y="700" width="5" height="6" fill="#d0d0d0" stroke="#555" stroke-width="0.7"/>
<rect x="1413" y="700" width="8.500" height="9" rx="1" fill="#dedede" stroke="#555" stroke-width="0.7"/><path d="M1417.25 700 V709 M1413 704 H1421.5" stroke="#555" stroke-width="0.6"/>
<rect x="1430" y="700" width="8.500" height="9" rx="1" fill="#dedede" stroke="#555" stroke-width="0.7"/><path d="M1434.25 700 V709 M1430 704 H1438.5" stroke="#555" stroke-width="0.6"/>
<rect x="1447.5" y="700" width="8.500" height="9" rx="1" fill="#dedede" stroke="#555" stroke-width="0.7"/><path d="M1451.75 700 V709 M1447.5 704 H1456.0" stroke="#555" stroke-width="0.6"/>
<rect x="1464.5" y="700" width="8.500" height="9" rx="1" fill="#dedede" stroke="#555" stroke-width="0.7"/><path d="M1468.75 700 V709 M1464.5 704 H1473.0" stroke="#555" stroke-width="0.6"/>
<rect x="1375.300" y="569.200" width="111.200" height="131" rx="2" fill="#a0a1a3" stroke="#8b8c8e" stroke-width="0.6"/>
<path d="M1377.300 569.500 H1484.500 A2 2 0 0 1 1486.200 571.500 V660 C1470 630 1440 610 1375.600 603.500 V571.500 A2 2 0 0 1 1377.300 569.500 Z" fill="url(#deqR)"/>
<path d="M1377.300 569.500 H1484.500 A2 2 0 0 1 1486.200 571.500 V604 C1450 606 1410 605 1375.600 603.500 V571.500 A2 2 0 0 1 1377.300 569.500 Z" fill="url(#deqTop)" opacity="0.85"/>
<rect x="1402" y="605" width="57.600" height="32.200" fill="url(#deqScr)"/>
<path d="M1402 607.200 C1425 610 1445 617 1459.600 630 V637.200 H1402 Z" fill="#3b3f42"/>
<text x="1431" y="672" text-anchor="middle" font-size="11.3" font-weight="bold" style="fill:#5b5d5f" textLength="88.500" lengthAdjust="spacingAndGlyphs">Data Equipment</text>
</g>
<g id="probes">
<rect x="202" y="296.800" width="84" height="17.500" fill="url(#metal)"/>
<rect x="285" y="291.800" width="79" height="27.500" fill="url(#metal)"/>
<rect x="325.800" y="266.3" width="2.400" height="78.19999999999999" fill="#a3a3a5" stroke="#8a8a8c" stroke-width="0.3"/>
<rect x="355.3" y="283.8" width="8.5" height="4.400" rx="0.800" fill="url(#metal)" stroke="#a9a9ab" stroke-width="0.4"/><rect x="355.3" y="322.6" width="8.5" height="4.400" rx="0.800" fill="url(#metal)" stroke="#a9a9ab" stroke-width="0.4"/>
<rect x="363.800" y="268" width="8.700" height="75" fill="url(#flg)" stroke="#8c8c8e" stroke-width="0.5"/>
<rect x="439.5" y="359.5" width="25.5" height="24.3" rx="1.500" fill="url(#metalH)" stroke="#8c8c8e" stroke-width="0.5"/><path d="M439.5 366.3 H465.0 M439.5 371.2 H465.0" stroke="#8a8a8c" stroke-width="0.7"/><path d="M447.1 371.6 V383.8 M457.4 371.6 V383.8" stroke="#9a9a9c" stroke-width="0.6"/>
<rect x="473" y="359.5" width="9" height="8" rx="0.800" fill="#d9d9da" stroke="#77777a" stroke-width="0.6"/><path d="M473 362.7 H482 M476.0 362.7 V367.5 M479.0 362.7 V367.5" stroke="#77777a" stroke-width="0.5"/>
<path d="M372.5 260.5 H466.8 L490.5 283.8 V359.5 H372.5 Z" fill="url(#pbox)" stroke="#9b9ca0" stroke-width="0.6"/><path d="M372.5 261.3 H466.5 L489.7 284.1" fill="none" stroke="#aeb7bf" stroke-width="1.2" opacity="0.8"/>
<g transform="translate(0 0)"><path d="M212 505 C205 504.600 201 502.600 197.800 501.500 C194 500.200 191.500 499.100 188.500 499.100 C184.500 499.100 182.300 502 181.900 507" fill="none" stroke="#8b8b8d" stroke-width="2.900" stroke-linecap="round"/><path d="M212 505 C205 504.600 201 502.600 197.800 501.500 C194 500.200 191.500 499.100 188.500 499.100 C184.500 499.100 182.300 502 181.900 507" fill="none" stroke="#dedede" stroke-width="1.700" stroke-linecap="round"/><path d="M181.500 506 C179.600 508 180 511.500 181.300 513 C182 514 182.800 515.300 183.300 515.600 C184 515.200 185 513.800 185.600 512.600 C186.700 510.500 186.500 507.800 184.500 506 Z" fill="#dcdcdc" stroke="#8b8b8d" stroke-width="0.600"/><rect x="211.700" y="500.500" width="15" height="9.800" fill="url(#metal)" stroke="#9a9a9c" stroke-width="0.400"/><path d="M211.700 503.300 H226.500 M211.700 507.500 H226.500" stroke="#a5a5a7" stroke-width="0.500"/></g>
<rect x="226.200" y="498" width="68" height="14.500" fill="url(#metal)"/>
<rect x="294" y="490.800" width="72" height="28.500" fill="url(#metal)"/>
<rect x="325.800" y="469" width="2.400" height="72" fill="#a3a3a5" stroke="#8a8a8c" stroke-width="0.3"/>
<rect x="357.0" y="481.3" width="8.5" height="4.400" rx="0.800" fill="url(#metal)" stroke="#a9a9ab" stroke-width="0.4"/><rect x="357.0" y="524.8" width="8.5" height="4.400" rx="0.800" fill="url(#metal)" stroke="#a9a9ab" stroke-width="0.4"/>
<path d="M375 476.300 H421.500 V507.500 L405 522.500 H375 Z" fill="url(#neck)" stroke="#a5a6aa" stroke-width="0.5"/>
<path d="M375 476.300 H421.500 V487 H375 Z" fill="#b9babd" opacity="0.55"/>
<rect x="365.500" y="469.500" width="9.500" height="71.300" fill="url(#flg)" stroke="#8c8c8e" stroke-width="0.5"/>
<rect x="430" y="555.5" width="9.5" height="9.5" rx="0.800" fill="#d9d9da" stroke="#77777a" stroke-width="0.6"/><path d="M430 559.3 H439.5 M433.1 559.3 V565.0 M436.4 559.3 V565.0" stroke="#77777a" stroke-width="0.5"/>
<rect x="444.3" y="555.5" width="7.8" height="6.5" rx="0.800" fill="#d9d9da" stroke="#77777a" stroke-width="0.6"/><path d="M444.3 558.1 H452.1 M446.9 558.1 V562.0 M449.5 558.1 V562.0" stroke="#77777a" stroke-width="0.5"/>
<rect x="421.500" y="463.300" width="55.300" height="92.200" rx="1.500" fill="url(#pbox2)" stroke="#a8a9ad" stroke-width="0.6"/>
<path d="M421.500 471 H476.800 M421.500 549 H476.800 M467.500 463.300 V555.500 M469.500 463.300 V555.500" fill="none" stroke="#b9babe" stroke-width="0.6"/>
<rect x="476.800" y="471.500" width="2" height="76" fill="#e9e9eb" stroke="#b1b2b6" stroke-width="0.4"/>
<rect x="198" y="694" width="20" height="14" rx="2" fill="url(#metal)" stroke="#9a9a9c" stroke-width="0.4"/>
<rect x="217.500" y="698" width="77" height="6.500" fill="url(#metal)"/>
<rect x="293.800" y="688.500" width="67" height="26" fill="url(#metal)"/>
<rect x="325.800" y="666" width="2.400" height="70" fill="#a3a3a5" stroke="#8a8a8c" stroke-width="0.3"/>
<rect x="352.5" y="681.3" width="8" height="4.400" rx="0.800" fill="url(#metal)" stroke="#a9a9ab" stroke-width="0.4"/><rect x="352.5" y="717.3" width="8" height="4.400" rx="0.800" fill="url(#metal)" stroke="#a9a9ab" stroke-width="0.4"/>
<rect x="360.500" y="677" width="7.800" height="48" fill="url(#flg)" stroke="#8c8c8e" stroke-width="0.5"/>
<rect x="448" y="742.5" width="9.5" height="9.3" rx="0.800" fill="#d9d9da" stroke="#77777a" stroke-width="0.6"/><path d="M448 746.2 H457.5 M451.1 746.2 V751.8 M454.4 746.2 V751.8" stroke="#77777a" stroke-width="0.5"/>
<path d="M368.3 660.5 H454.3 L476.3 682.5 V742.5 H368.3 Z" fill="url(#pbox)" stroke="#9b9ca0" stroke-width="0.6"/><path d="M368.3 661.3 H454.0 L475.5 682.8" fill="none" stroke="#aeb7bf" stroke-width="1.2" opacity="0.8"/>
<g transform="translate(2.3 384.1)"><path d="M212 505 C205 504.600 201 502.600 197.800 501.500 C194 500.200 191.500 499.100 188.500 499.100 C184.500 499.100 182.300 502 181.900 507" fill="none" stroke="#8b8b8d" stroke-width="2.900" stroke-linecap="round"/><path d="M212 505 C205 504.600 201 502.600 197.800 501.500 C194 500.200 191.500 499.100 188.500 499.100 C184.500 499.100 182.300 502 181.900 507" fill="none" stroke="#dedede" stroke-width="1.700" stroke-linecap="round"/><path d="M181.500 506 C179.600 508 180 511.500 181.300 513 C182 514 182.800 515.300 183.300 515.600 C184 515.200 185 513.800 185.600 512.600 C186.700 510.500 186.500 507.800 184.500 506 Z" fill="#dcdcdc" stroke="#8b8b8d" stroke-width="0.600"/><rect x="211.700" y="500.500" width="15" height="9.800" fill="url(#metal)" stroke="#9a9a9c" stroke-width="0.400"/><path d="M211.700 503.300 H226.500 M211.700 507.500 H226.500" stroke="#a5a5a7" stroke-width="0.500"/></g>
<rect x="228.500" y="882.200" width="70" height="14.500" fill="url(#metal)"/>
<rect x="298" y="875.800" width="63" height="25" fill="url(#metal)"/>
<rect x="325.800" y="852" width="2.400" height="71.5" fill="#a3a3a5" stroke="#8a8a8c" stroke-width="0.3"/>
<rect x="352.5" y="868.3" width="8" height="4.400" rx="0.800" fill="url(#metal)" stroke="#a9a9ab" stroke-width="0.4"/><rect x="352.5" y="903.3" width="8" height="4.400" rx="0.800" fill="url(#metal)" stroke="#a9a9ab" stroke-width="0.4"/>
<rect x="360.500" y="858.300" width="7.800" height="60" fill="url(#flg)" stroke="#8c8c8e" stroke-width="0.5"/>
<rect x="410.8" y="923.3" width="20" height="19.3" rx="1.500" fill="url(#metalH)" stroke="#8c8c8e" stroke-width="0.5"/><path d="M410.8 928.7 H430.8 M410.8 932.6 H430.8" stroke="#8a8a8c" stroke-width="0.7"/><path d="M416.8 932.9 V942.5999999999999 M424.8 932.9 V942.5999999999999" stroke="#9a9a9c" stroke-width="0.6"/>
<rect x="443.3" y="923.5" width="9.7" height="9" rx="0.800" fill="#d9d9da" stroke="#77777a" stroke-width="0.6"/><path d="M443.3 927.1 H453.0 M446.5 927.1 V932.5 M449.8 927.1 V932.5" stroke="#77777a" stroke-width="0.5"/>
<path d="M368.3 853.3 H443 L461.3 871.8 V923.3 H368.3 Z" fill="url(#pbox)" stroke="#9b9ca0" stroke-width="0.6"/><path d="M368.3 854.0999999999999 H442.7 L460.5 872.0999999999999" fill="none" stroke="#aeb7bf" stroke-width="1.2" opacity="0.8"/>
</g>
<g id="ebox" opacity="0.999">
<rect x="611.3" y="835" width="9" height="8.500" rx="1" fill="#d2d2d2" stroke="#7a7a7a" stroke-width="0.6"/><path d="M611.3 838 H620.3 M611.3 840.500 H620.3 M614.3 838 V843.500 M617.3 838 V843.500" stroke="#7a7a7a" stroke-width="0.5"/>
<rect x="639.8" y="835" width="9" height="8.500" rx="1" fill="#d2d2d2" stroke="#7a7a7a" stroke-width="0.6"/><path d="M639.8 838 H648.8 M639.8 840.500 H648.8 M642.8 838 V843.500 M645.8 838 V843.500" stroke="#7a7a7a" stroke-width="0.5"/>
<path d="M580.500 846.800 L584.300 841.300 H676.800 L672.500 846.800 Z" fill="#9a9ba6" stroke="#85868f" stroke-width="0.4"/>
<path d="M672.500 846.800 L676.800 841.300 V960 L672.500 964.500 Z" fill="#8b8c97" stroke="#7d7e88" stroke-width="0.4"/>
<rect x="580.500" y="846.800" width="92" height="117.700" fill="#a9aab6" stroke="#8e8f99" stroke-width="0.5"/>
<text x="628.800" y="869.300" text-anchor="middle" font-size="14.5" font-weight="bold" style="fill:#2e3040" textLength="72.500" lengthAdjust="spacingAndGlyphs">Electric box</text>
<path d="M629.300 886.600 L650.500 923 H608 Z" fill="#fbc968" stroke="#fbc968" stroke-width="6.600" stroke-linejoin="round"/>
<path d="M629.300 888 L649 921.800 H609.600 Z" fill="none" stroke="#2e3040" stroke-width="0.9" stroke-linejoin="round"/>
<path d="M632.300 893.300 L623.600 909 L628.500 909 L623.500 921 L635 904.600 L629.800 904.600 Z" fill="#2e3040"/>
<rect x="600" y="937.5" width="58.800" height="2.600" rx="1" fill="#2e3040"/>
<rect x="600" y="944.2" width="58.800" height="2.600" rx="1" fill="#2e3040"/>
<rect x="600" y="950.8" width="58.800" height="2.600" rx="1" fill="#2e3040"/>
</g>
<g id="dust" stroke="#777777" stroke-width="0.9">
<circle cx="467.8" cy="1034.800" r="6" fill="none" stroke="#cdcdcd" stroke-width="3.600"/><circle cx="467.8" cy="1034.800" r="7.900" fill="none"/><circle cx="467.8" cy="1034.800" r="4.100" fill="none"/><rect x="463.8" y="1040.800" width="8" height="2.400" fill="#cdcdcd"/>
<circle cx="594.8" cy="1034.800" r="6" fill="none" stroke="#cdcdcd" stroke-width="3.600"/><circle cx="594.8" cy="1034.800" r="7.900" fill="none"/><circle cx="594.8" cy="1034.800" r="4.100" fill="none"/><rect x="590.8" y="1040.800" width="8" height="2.400" fill="#cdcdcd"/>
<rect x="426.300" y="1212.500" width="35" height="96.300" fill="url(#pump)"/>
<path d="M426.300 1216 H461 M426.300 1227.500 H461 M429.500 1227.500 V1299 H461 M429.500 1239 H461 M426.300 1302 H445 V1308.800 M430 1216 V1221 H444 V1216" fill="none" stroke="#8f8f93" stroke-width="0.6"/>
<rect x="426.300" y="1212.500" width="35" height="15" fill="#d3d3d6" opacity="0.8"/>
<rect x="437.500" y="1309" width="4" height="3.500" fill="#ccc"/><rect x="446.500" y="1309" width="4.500" height="3.500" fill="#ccc"/>
<rect x="435" y="1072" width="26" height="16.700" fill="url(#metal)"/>
<path d="M440.500 1072 V1080 H435 M440.500 1088.700 V1083" fill="none"/>
<rect x="601.800" y="1060" width="5.200" height="17.500" fill="#c9c9c9"/><path d="M601.800 1069 H607" fill="none"/>
<rect x="601.800" y="1167.500" width="5.200" height="18.500" fill="#c9c9c9"/><path d="M601.800 1177 H607" fill="none"/>
<rect x="601.800" y="1210" width="8.200" height="34" fill="#c9c9c9"/>
<path d="M610.500 1214 V1240" stroke="#999" stroke-width="1.2" stroke-dasharray="1 1.4" fill="none"/>
<rect x="601.800" y="1275" width="5.200" height="18" fill="#c9c9c9"/><path d="M601.800 1284 H607" fill="none"/>
<rect x="602" y="1301" width="6" height="8" fill="#777" stroke="#444"/>
<rect x="459.500" y="1150" width="2" height="26" fill="#d5d5d5" stroke="#aaa" stroke-width="0.4"/>
<rect x="457.300" y="1200.500" width="4" height="3.500" fill="#eee" stroke="#999" stroke-width="0.5"/>
<rect x="460.800" y="1319" width="28" height="14.500" fill="#a9a9a9"/><rect x="573.500" y="1319" width="28" height="14.500" fill="#a9a9a9"/>
<rect x="461.300" y="1043" width="140.500" height="276.300" fill="#cdcdcd"/>
<rect x="481.300" y="1163.800" width="10" height="55" fill="#b5b5b5" stroke="#707070"/>
<path d="M481.300 1169 H491.300 M486.300 1163.800 V1169 M481.300 1213.500 H491.300" fill="none" stroke="#707070"/>
<rect x="483.800" y="1175.500" width="5" height="36" rx="2.500" fill="#c9c9c9" stroke="#707070"/>
</g>
<g id="lines">
<path class="lg" d="M485.500 497 H675 A22 22 0 0 1 697 519 V1348.800 A22 22 0 0 0 719 1370.800 H1273.800 A22 22 0 0 0 1295.800 1348.800 V1227" style="stroke-linecap:butt"/>
<path class="lg" d="M482.500 697 H675 A22 22 0 0 1 697 719"/>
<path class="lg" d="M608.800 1135.500 H675 A22 22 0 0 1 697 1157.500"/>
<path class="lg" d="M1196.800 1066.800 H1244.800 A10 10 0 0 1 1254.800 1076.800 V1213.800" style="stroke-linecap:butt"/>
<path class="lo" d="M497.500 303.800 H719.800 A22 22 0 0 1 741.800 325.800 V667.300 A22 22 0 0 0 763.800 689.300 H1089.500 A10 10 0 0 1 1099.500 699.300 V779.300" style="stroke-linecap:butt"/>
<path class="lo" d="M420 949.300 V1068.500 A12 12 0 0 0 432 1080.500 H436" style="stroke-linecap:butt"/>
<path class="lk" d="M497.500 330 H625.300 A19 19 0 0 1 644.300 349 V489 A8 8 0 0 1 644.300 505 V689 A8 8 0 0 1 644.300 705 V836" style="stroke-linecap:butt"/>
<path class="lk" d="M485.500 520.800 H622.300 A22 22 0 0 1 644.300 542.800"/>
<path class="lk" d="M482.500 721.800 H622.300 A22 22 0 0 1 644.300 743.800"/>
<path class="lk" d="M468.800 905.800 H507.500 A10.500 10.500 0 0 1 518 916.300 V1042" style="stroke-linecap:butt"/>
<path class="lk" d="M538.800 1042 V818.800 A10 10 0 0 1 548.800 808.800 H606.300 A10 10 0 0 1 616.300 818.800 V836" style="stroke-linecap:butt"/>
<path class="lk" d="M626.200 964.500 V995 A10 10 0 0 0 636.200 1005 H687.500 Q689.800 1005 690.300 1002.700 A7.200 7.200 0 0 1 703.900 1002.700 Q704.400 1005 706.700 1005 H731.800 A10 10 0 0 0 741.800 995 V721.300 A13 13 0 0 1 754.800 708.300 H1067.500 A13 13 0 0 1 1080.500 721.300 V779.300" style="stroke-linecap:butt"/>
<circle cx="497.5" cy="303.8" r="6.100" fill="#e95513"/>
<circle cx="497.5" cy="330" r="6.100" fill="#231815"/>
<circle cx="485.6" cy="497" r="6.100" fill="#00953f"/>
<circle cx="485.6" cy="520.8" r="6.100" fill="#231815"/>
<circle cx="482.5" cy="697" r="6.100" fill="#00953f"/>
<circle cx="482.5" cy="721.8" r="6.100" fill="#231815"/>
<circle cx="468.8" cy="905.8" r="6.100" fill="#231815"/>
<circle cx="420" cy="949.3" r="6.100" fill="#e95513"/>
<circle cx="608.8" cy="1135.5" r="6.100" fill="#00953f"/>
<circle cx="1254.8" cy="1213.8" r="6.100" fill="#00953f"/>
<circle cx="1295.8" cy="1227" r="6.100" fill="#00953f"/>
</g>
<g id="cloud">
<g transform="translate(13.8 -4)" fill="#7cc7e3"><circle cx="1355.300" cy="216.500" r="56.500"/><circle cx="1461.800" cy="179.500" r="82.500"/><circle cx="1542.500" cy="221.500" r="51.500"/><rect x="1355.300" y="200" width="187.200" height="73"/></g>
<g transform="translate(0 0)" fill="#b5e0f0"><circle cx="1355.300" cy="216.500" r="56.500"/><circle cx="1461.800" cy="179.500" r="82.500"/><circle cx="1542.500" cy="221.500" r="51.500"/><rect x="1355.300" y="200" width="187.200" height="73"/></g>
</g>
<g id="wifi">
<rect x="1450.0" y="400.5" width="7.600" height="162.0" fill="#1e7fc5"/>
<circle cx="1453.8" cy="400.5" r="13.500" fill="#1e7fc5"/>
<path d="M1428.3 379.3 A33.2 33.2 0 0 1 1479.3 379.3" fill="none" stroke="#1e7fc5" stroke-width="13.600" stroke-linecap="round"/>
<path d="M1407.5 362.0 A60.2 60.2 0 0 1 1500.1 362.0" fill="none" stroke="#1e7fc5" stroke-width="13.600" stroke-linecap="round"/>
<path d="M1386.9 344.9 A87 87 0 0 1 1520.7 344.9" fill="none" stroke="#1e7fc5" stroke-width="13.600" stroke-linecap="round"/>
</g>
<g id="pc1"><circle cx="1920.500" cy="260" r="131.300" fill="#efefef"/><g transform="translate(0 0)"><path d="M1841 289.300 H1959.800 L1978 306.300 H1823 Z" fill="#dadada" stroke="#b3b3b3" stroke-width="0.5"/><rect x="1823" y="306.300" width="155" height="8.300" fill="#909092"/><path d="M1861 285 H1940.500 L1953 299.500 H1848 Z" fill="#d9d9d9" stroke="#b3b3b3" stroke-width="0.5"/><rect x="1848" y="299.500" width="105" height="5" fill="#9b9b9d"/><path d="M1878 280 H1923 V291.500 Q1900.500 297 1878 291.500 Z" fill="#404041"/><rect x="1811" y="160" width="179" height="120.800" fill="#a6a6ab"/><rect x="1815.500" y="164.300" width="170" height="109.500" fill="#05659c"/><rect x="1819" y="167" width="164" height="104.300" fill="#0096de"/><path d="M1883.500 244.700 H1931.500 A11.300 11.300 0 0 0 1934.300 222.500 A26 26 0 0 0 1884.300 212.700 A16.100 16.100 0 0 0 1883.500 244.700 Z" fill="none" stroke="#62c4ef" stroke-width="4.100" stroke-linejoin="round"/><path d="M1824.800 317.500 H1976.800 L1999.800 335.500 H1801 Z" fill="#d6d6d6" stroke="#a9a9a9" stroke-width="0.5"/><rect x="1801" y="335.500" width="198.800" height="6.300" fill="#949496"/><path d="M1825.0 319.9 L1830.8 319.9 L1828.6 321.9 L1822.6 321.9 Z M1831.7 319.9 L1837.5 319.9 L1835.5 321.9 L1829.6 321.9 Z M1838.4 319.9 L1844.2 319.9 L1842.4 321.9 L1836.5 321.9 Z M1845.2 319.9 L1850.9 319.9 L1849.4 321.9 L1843.4 321.9 Z M1851.9 319.9 L1857.6 319.9 L1856.3 321.9 L1850.3 321.9 Z M1858.6 319.9 L1864.4 319.9 L1863.2 321.9 L1857.3 321.9 Z M1865.3 319.9 L1871.1 319.9 L1870.1 321.9 L1864.2 321.9 Z M1872.0 319.9 L1877.8 319.9 L1877.1 321.9 L1871.1 321.9 Z M1878.7 319.9 L1884.5 319.9 L1884.0 321.9 L1878.0 321.9 Z M1885.5 319.9 L1891.2 319.9 L1890.9 321.9 L1885.0 321.9 Z M1892.2 319.9 L1897.9 319.9 L1897.8 321.9 L1891.9 321.9 Z M1898.9 319.9 L1904.7 319.9 L1904.8 321.9 L1898.8 321.9 Z M1905.6 319.9 L1911.4 319.9 L1911.7 321.9 L1905.7 321.9 Z M1912.3 319.9 L1918.1 319.9 L1918.6 321.9 L1912.7 321.9 Z M1919.0 319.9 L1924.8 319.9 L1925.5 321.9 L1919.6 321.9 Z M1925.8 319.9 L1931.5 319.9 L1932.5 321.9 L1926.5 321.9 Z M1951.2 319.9 L1955.2 319.9 L1956.9 321.9 L1952.8 321.9 Z M1956.2 319.9 L1960.2 319.9 L1962.1 321.9 L1957.9 321.9 Z M1961.2 319.9 L1965.2 319.9 L1967.2 321.9 L1963.0 321.9 Z M1966.2 319.9 L1970.2 319.9 L1972.3 321.9 L1968.2 321.9 Z M1971.1 319.9 L1975.2 319.9 L1977.5 321.9 L1973.3 321.9 Z M1821.3 323.0 L1827.4 323.0 L1824.1 326.0 L1817.8 326.0 Z M1828.4 323.0 L1834.4 323.0 L1831.5 326.0 L1825.1 326.0 Z M1835.4 323.0 L1841.5 323.0 L1838.8 326.0 L1832.5 326.0 Z M1842.5 323.0 L1848.5 323.0 L1846.2 326.0 L1839.8 326.0 Z M1849.5 323.0 L1855.5 323.0 L1853.5 326.0 L1847.2 326.0 Z M1856.5 323.0 L1862.6 323.0 L1860.9 326.0 L1854.6 326.0 Z M1863.6 323.0 L1869.6 323.0 L1868.2 326.0 L1861.9 326.0 Z M1870.6 323.0 L1876.7 323.0 L1875.6 326.0 L1869.3 326.0 Z M1877.7 323.0 L1883.7 323.0 L1882.9 326.0 L1876.6 326.0 Z M1884.7 323.0 L1890.7 323.0 L1890.3 326.0 L1884.0 326.0 Z M1891.7 323.0 L1897.8 323.0 L1897.6 326.0 L1891.3 326.0 Z M1898.8 323.0 L1904.8 323.0 L1905.0 326.0 L1898.7 326.0 Z M1905.8 323.0 L1911.9 323.0 L1912.3 326.0 L1906.0 326.0 Z M1912.9 323.0 L1918.9 323.0 L1919.7 326.0 L1913.4 326.0 Z M1919.9 323.0 L1925.9 323.0 L1927.0 326.0 L1920.7 326.0 Z M1926.9 323.0 L1933.0 323.0 L1934.4 326.0 L1928.1 326.0 Z M1953.6 323.0 L1957.8 323.0 L1960.4 326.0 L1955.9 326.0 Z M1958.8 323.0 L1963.1 323.0 L1965.8 326.0 L1961.4 326.0 Z M1964.1 323.0 L1968.3 323.0 L1971.3 326.0 L1966.9 326.0 Z M1969.3 323.0 L1973.5 323.0 L1976.7 326.0 L1972.3 326.0 Z M1974.5 323.0 L1978.7 323.0 L1982.2 326.0 L1977.8 326.0 Z M1816.7 326.9 L1823.1 326.9 L1819.5 330.2 L1812.8 330.2 Z M1824.2 326.9 L1830.6 326.9 L1827.3 330.2 L1820.6 330.2 Z M1831.6 326.9 L1838.0 326.9 L1835.1 330.2 L1828.4 330.2 Z M1839.1 326.9 L1845.5 326.9 L1842.9 330.2 L1836.2 330.2 Z M1846.5 326.9 L1852.9 326.9 L1850.7 330.2 L1844.0 330.2 Z M1854.0 326.9 L1860.3 326.9 L1858.5 330.2 L1851.8 330.2 Z M1861.4 326.9 L1867.8 326.9 L1866.3 330.2 L1859.6 330.2 Z M1868.9 326.9 L1875.2 326.9 L1874.0 330.2 L1867.4 330.2 Z M1876.3 326.9 L1882.7 326.9 L1881.8 330.2 L1875.1 330.2 Z M1883.7 326.9 L1890.1 326.9 L1889.6 330.2 L1882.9 330.2 Z M1891.2 326.9 L1897.6 326.9 L1897.4 330.2 L1890.7 330.2 Z M1898.6 326.9 L1905.0 326.9 L1905.2 330.2 L1898.5 330.2 Z M1906.1 326.9 L1912.5 326.9 L1913.0 330.2 L1906.3 330.2 Z M1913.5 326.9 L1919.9 326.9 L1920.8 330.2 L1914.1 330.2 Z M1921.0 326.9 L1927.4 326.9 L1928.6 330.2 L1921.9 330.2 Z M1928.4 326.9 L1934.8 326.9 L1936.4 330.2 L1929.7 330.2 Z M1956.6 326.9 L1961.1 326.9 L1963.9 330.2 L1959.2 330.2 Z M1962.2 326.9 L1966.6 326.9 L1969.7 330.2 L1965.0 330.2 Z M1967.7 326.9 L1972.2 326.9 L1975.4 330.2 L1970.8 330.2 Z M1973.2 326.9 L1977.7 326.9 L1981.2 330.2 L1976.5 330.2 Z M1978.7 326.9 L1983.2 326.9 L1987.0 330.2 L1982.3 330.2 Z M1943.4 327.2 L1947.7 327.2 L1949.6 330.2 L1945.2 330.2 Z M1812.0 330.9 L1818.7 330.9 L1815.2 334.1 L1808.2 334.1 Z M1819.9 330.9 L1826.6 330.9 L1823.4 334.1 L1816.4 334.1 Z M1827.7 330.9 L1834.5 330.9 L1831.6 334.1 L1824.6 334.1 Z M1835.6 330.9 L1842.3 330.9 L1839.8 334.1 L1832.8 334.1 Z M1843.4 330.9 L1913.1 330.9 L1913.6 334.1 L1841.0 334.1 Z M1914.2 330.9 L1921.0 330.9 L1921.8 334.1 L1914.8 334.1 Z M1922.1 330.9 L1928.8 330.9 L1930.0 334.1 L1923.0 334.1 Z M1929.9 330.9 L1936.7 330.9 L1938.2 334.1 L1931.2 334.1 Z M1959.7 330.9 L1964.5 330.9 L1967.1 334.1 L1962.2 334.1 Z M1965.6 330.9 L1970.3 330.9 L1973.2 334.1 L1968.3 334.1 Z M1971.4 330.9 L1976.1 330.9 L1979.3 334.1 L1974.4 334.1 Z M1977.2 330.9 L1982.0 330.9 L1985.4 334.1 L1980.5 334.1 Z M1983.1 330.9 L1987.8 330.9 L1991.5 334.1 L1986.5 334.1 Z M1939.5 330.9 L1944.3 330.9 L1946.1 334.1 L1941.1 334.1 Z M1945.4 330.9 L1950.3 330.9 L1952.3 334.1 L1947.3 334.1 Z M1951.4 330.9 L1956.2 330.9 L1958.5 334.1 L1953.5 334.1 Z" fill="#3f3f41"/><path d="M1978 308 C1995 307 2006 308 2008 317 C2008.500 323 2006 326 2011 330" fill="none" stroke="#4a4a4a" stroke-width="1.200"/><ellipse cx="2029" cy="334.700" rx="19.200" ry="10.800" transform="rotate(14 2029 334.700)" fill="#d9d9db" stroke="#a9a9ab" stroke-width="0.7"/><path d="M2011.500 327 C2016 330 2022 341 2038 345.500 C2025 346.500 2011 337 2011.500 327 Z" fill="#c2c2c5"/></g></g>
<g id="pc2"><circle cx="1920.500" cy="648" r="131.300" fill="#efefef"/><g transform="translate(0 389.6)"><path d="M1841 289.300 H1959.800 L1978 306.300 H1823 Z" fill="#dadada" stroke="#b3b3b3" stroke-width="0.5"/><rect x="1823" y="306.300" width="155" height="8.300" fill="#909092"/><path d="M1861 285 H1940.500 L1953 299.500 H1848 Z" fill="#d9d9d9" stroke="#b3b3b3" stroke-width="0.5"/><rect x="1848" y="299.500" width="105" height="5" fill="#9b9b9d"/><path d="M1878 280 H1923 V291.500 Q1900.500 297 1878 291.500 Z" fill="#404041"/><rect x="1811" y="160" width="179" height="120.800" fill="#a6a6ab"/><rect x="1815.500" y="164.300" width="170" height="109.500" fill="#05659c"/><rect x="1819" y="167" width="164" height="104.300" fill="#0096de"/><g fill="none" stroke="#62c4ef" stroke-width="4.100" stroke-linecap="round" stroke-linejoin="round"><path d="M1871.900 246.2 H1929"/><path d="M1877.900 246.2 V208.9 Q1877.900 205.4 1881 203.4 L1897 193.4 Q1900.700 191.2 1900.700 195.4 V246.2"/><path d="M1900.700 199.3 L1920.500 210.5 Q1923.900 212.4 1923.900 216.4 V246.2"/><path d="M1884.900 214.6 H1893.900 M1884.900 224.8 H1893.900 M1884.900 234.9 H1893.900 M1907.100 221.3 H1915.900 M1907.100 232.2 H1915.900"/></g><path d="M1824.800 317.500 H1976.800 L1999.800 335.500 H1801 Z" fill="#d6d6d6" stroke="#a9a9a9" stroke-width="0.5"/><rect x="1801" y="335.500" width="198.800" height="6.300" fill="#949496"/><path d="M1825.0 319.9 L1830.8 319.9 L1828.6 321.9 L1822.6 321.9 Z M1831.7 319.9 L1837.5 319.9 L1835.5 321.9 L1829.6 321.9 Z M1838.4 319.9 L1844.2 319.9 L1842.4 321.9 L1836.5 321.9 Z M1845.2 319.9 L1850.9 319.9 L1849.4 321.9 L1843.4 321.9 Z M1851.9 319.9 L1857.6 319.9 L1856.3 321.9 L1850.3 321.9 Z M1858.6 319.9 L1864.4 319.9 L1863.2 321.9 L1857.3 321.9 Z M1865.3 319.9 L1871.1 319.9 L1870.1 321.9 L1864.2 321.9 Z M1872.0 319.9 L1877.8 319.9 L1877.1 321.9 L1871.1 321.9 Z M1878.7 319.9 L1884.5 319.9 L1884.0 321.9 L1878.0 321.9 Z M1885.5 319.9 L1891.2 319.9 L1890.9 321.9 L1885.0 321.9 Z M1892.2 319.9 L1897.9 319.9 L1897.8 321.9 L1891.9 321.9 Z M1898.9 319.9 L1904.7 319.9 L1904.8 321.9 L1898.8 321.9 Z M1905.6 319.9 L1911.4 319.9 L1911.7 321.9 L1905.7 321.9 Z M1912.3 319.9 L1918.1 319.9 L1918.6 321.9 L1912.7 321.9 Z M1919.0 319.9 L1924.8 319.9 L1925.5 321.9 L1919.6 321.9 Z M1925.8 319.9 L1931.5 319.9 L1932.5 321.9 L1926.5 321.9 Z M1951.2 319.9 L1955.2 319.9 L1956.9 321.9 L1952.8 321.9 Z M1956.2 319.9 L1960.2 319.9 L1962.1 321.9 L1957.9 321.9 Z M1961.2 319.9 L1965.2 319.9 L1967.2 321.9 L1963.0 321.9 Z M1966.2 319.9 L1970.2 319.9 L1972.3 321.9 L1968.2 321.9 Z M1971.1 319.9 L1975.2 319.9 L1977.5 321.9 L1973.3 321.9 Z M1821.3 323.0 L1827.4 323.0 L1824.1 326.0 L1817.8 326.0 Z M1828.4 323.0 L1834.4 323.0 L1831.5 326.0 L1825.1 326.0 Z M1835.4 323.0 L1841.5 323.0 L1838.8 326.0 L1832.5 326.0 Z M1842.5 323.0 L1848.5 323.0 L1846.2 326.0 L1839.8 326.0 Z M1849.5 323.0 L1855.5 323.0 L1853.5 326.0 L1847.2 326.0 Z M1856.5 323.0 L1862.6 323.0 L1860.9 326.0 L1854.6 326.0 Z M1863.6 323.0 L1869.6 323.0 L1868.2 326.0 L1861.9 326.0 Z M1870.6 323.0 L1876.7 323.0 L1875.6 326.0 L1869.3 326.0 Z M1877.7 323.0 L1883.7 323.0 L1882.9 326.0 L1876.6 326.0 Z M1884.7 323.0 L1890.7 323.0 L1890.3 326.0 L1884.0 326.0 Z M1891.7 323.0 L1897.8 323.0 L1897.6 326.0 L1891.3 326.0 Z M1898.8 323.0 L1904.8 323.0 L1905.0 326.0 L1898.7 326.0 Z M1905.8 323.0 L1911.9 323.0 L1912.3 326.0 L1906.0 326.0 Z M1912.9 323.0 L1918.9 323.0 L1919.7 326.0 L1913.4 326.0 Z M1919.9 323.0 L1925.9 323.0 L1927.0 326.0 L1920.7 326.0 Z M1926.9 323.0 L1933.0 323.0 L1934.4 326.0 L1928.1 326.0 Z M1953.6 323.0 L1957.8 323.0 L1960.4 326.0 L1955.9 326.0 Z M1958.8 323.0 L1963.1 323.0 L1965.8 326.0 L1961.4 326.0 Z M1964.1 323.0 L1968.3 323.0 L1971.3 326.0 L1966.9 326.0 Z M1969.3 323.0 L1973.5 323.0 L1976.7 326.0 L1972.3 326.0 Z M1974.5 323.0 L1978.7 323.0 L1982.2 326.0 L1977.8 326.0 Z M1816.7 326.9 L1823.1 326.9 L1819.5 330.2 L1812.8 330.2 Z M1824.2 326.9 L1830.6 326.9 L1827.3 330.2 L1820.6 330.2 Z M1831.6 326.9 L1838.0 326.9 L1835.1 330.2 L1828.4 330.2 Z M1839.1 326.9 L1845.5 326.9 L1842.9 330.2 L1836.2 330.2 Z M1846.5 326.9 L1852.9 326.9 L1850.7 330.2 L1844.0 330.2 Z M1854.0 326.9 L1860.3 326.9 L1858.5 330.2 L1851.8 330.2 Z M1861.4 326.9 L1867.8 326.9 L1866.3 330.2 L1859.6 330.2 Z M1868.9 326.9 L1875.2 326.9 L1874.0 330.2 L1867.4 330.2 Z M1876.3 326.9 L1882.7 326.9 L1881.8 330.2 L1875.1 330.2 Z M1883.7 326.9 L1890.1 326.9 L1889.6 330.2 L1882.9 330.2 Z M1891.2 326.9 L1897.6 326.9 L1897.4 330.2 L1890.7 330.2 Z M1898.6 326.9 L1905.0 326.9 L1905.2 330.2 L1898.5 330.2 Z M1906.1 326.9 L1912.5 326.9 L1913.0 330.2 L1906.3 330.2 Z M1913.5 326.9 L1919.9 326.9 L1920.8 330.2 L1914.1 330.2 Z M1921.0 326.9 L1927.4 326.9 L1928.6 330.2 L1921.9 330.2 Z M1928.4 326.9 L1934.8 326.9 L1936.4 330.2 L1929.7 330.2 Z M1956.6 326.9 L1961.1 326.9 L1963.9 330.2 L1959.2 330.2 Z M1962.2 326.9 L1966.6 326.9 L1969.7 330.2 L1965.0 330.2 Z M1967.7 326.9 L1972.2 326.9 L1975.4 330.2 L1970.8 330.2 Z M1973.2 326.9 L1977.7 326.9 L1981.2 330.2 L1976.5 330.2 Z M1978.7 326.9 L1983.2 326.9 L1987.0 330.2 L1982.3 330.2 Z M1943.4 327.2 L1947.7 327.2 L1949.6 330.2 L1945.2 330.2 Z M1812.0 330.9 L1818.7 330.9 L1815.2 334.1 L1808.2 334.1 Z M1819.9 330.9 L1826.6 330.9 L1823.4 334.1 L1816.4 334.1 Z M1827.7 330.9 L1834.5 330.9 L1831.6 334.1 L1824.6 334.1 Z M1835.6 330.9 L1842.3 330.9 L1839.8 334.1 L1832.8 334.1 Z M1843.4 330.9 L1913.1 330.9 L1913.6 334.1 L1841.0 334.1 Z M1914.2 330.9 L1921.0 330.9 L1921.8 334.1 L1914.8 334.1 Z M1922.1 330.9 L1928.8 330.9 L1930.0 334.1 L1923.0 334.1 Z M1929.9 330.9 L1936.7 330.9 L1938.2 334.1 L1931.2 334.1 Z M1959.7 330.9 L1964.5 330.9 L1967.1 334.1 L1962.2 334.1 Z M1965.6 330.9 L1970.3 330.9 L1973.2 334.1 L1968.3 334.1 Z M1971.4 330.9 L1976.1 330.9 L1979.3 334.1 L1974.4 334.1 Z M1977.2 330.9 L1982.0 330.9 L1985.4 334.1 L1980.5 334.1 Z M1983.1 330.9 L1987.8 330.9 L1991.5 334.1 L1986.5 334.1 Z M1939.5 330.9 L1944.3 330.9 L1946.1 334.1 L1941.1 334.1 Z M1945.4 330.9 L1950.3 330.9 L1952.3 334.1 L1947.3 334.1 Z M1951.4 330.9 L1956.2 330.9 L1958.5 334.1 L1953.5 334.1 Z" fill="#3f3f41"/><path d="M1978 308 C1995 307 2006 308 2008 317 C2008.500 323 2006 326 2011 330" fill="none" stroke="#4a4a4a" stroke-width="1.200"/><ellipse cx="2029" cy="334.700" rx="19.200" ry="10.800" transform="rotate(14 2029 334.700)" fill="#d9d9db" stroke="#a9a9ab" stroke-width="0.7"/><path d="M2011.500 327 C2016 330 2022 341 2038 345.500 C2025 346.500 2011 337 2011.500 327 Z" fill="#c2c2c5"/></g></g>
<g id="arrows">
<path class="la" d="M1607.500 204.500 C1660 204.500 1682 236 1700 258 C1718 279 1736 293.500 1758 290.600"/>
<use href="#aheads" fill="#717071" transform="translate(1772.200 288.300) rotate(-9)"/>
<path class="la" d="M1577.500 267.500 C1620 285 1626.500 340 1628 440 C1629.500 530 1668 606 1764 616.300"/>
<use href="#aheads" fill="#717071" transform="translate(1778.800 618.100) rotate(6.700)"/>
<path class="la" d="M1534 929 H1700.500 A19.500 19.500 0 0 0 1720 909.500 V689.500 A20 20 0 0 1 1740 669.500 H1761"/>
<use href="#aheads" fill="#717071" transform="translate(1775.500 669.500)"/>
<path class="la" d="M1534 1181.700 H1806"/>
<use href="#ahead" fill="#717071" transform="translate(1824.400 1181.700)"/>
</g>
<g id="server">
<rect x="1834.800" y="994.500" width="171.500" height="324.500" fill="#3a3b40"/>
<rect x="1839.800" y="1006.300" width="161.500" height="297.500" fill="#70757a"/>
<rect x="1847.8" y="1013" width="143.2" height="46.4" fill="#343845"/>
<rect x="1986.0" y="1013" width="5" height="46.4" fill="#262834"/>
<rect x="1853.0" y="1018" width="71" height="10" fill="#a5adb4"/>
<rect x="1853.0" y="1032.5" width="4.200" height="22.500" fill="#262834"/>
<rect x="1860.3" y="1032.5" width="4.200" height="22.500" fill="#262834"/>
<rect x="1867.7" y="1032.5" width="4.200" height="22.500" fill="#262834"/>
<rect x="1875.0" y="1032.5" width="4.200" height="22.500" fill="#262834"/>
<rect x="1882.4" y="1032.5" width="4.200" height="22.500" fill="#262834"/>
<rect x="1889.8" y="1032.5" width="4.200" height="22.500" fill="#262834"/>
<rect x="1897.1" y="1032.5" width="4.200" height="22.500" fill="#262834"/>
<rect x="1904.5" y="1032.5" width="4.200" height="22.500" fill="#262834"/>
<rect x="1911.8" y="1032.5" width="4.200" height="22.500" fill="#262834"/>
<rect x="1919.2" y="1032.5" width="4.200" height="22.500" fill="#262834"/>
<rect x="1929.0" y="1018" width="28.800" height="37" fill="#a5adb4"/>
<rect x="1961.8" y="1018" width="6" height="37" fill="#262834"/><rect x="1971.0" y="1018" width="6" height="37" fill="#262834"/>
<rect x="1847.8" y="1064.2" width="143.2" height="46.4" fill="#343845"/>
<rect x="1986.0" y="1064.2" width="5" height="46.4" fill="#262834"/>
<rect x="1853.0" y="1069.2" width="71" height="10" fill="#a5adb4"/>
<rect x="1853.0" y="1083.7" width="4.200" height="22.500" fill="#262834"/>
<rect x="1860.3" y="1083.7" width="4.200" height="22.500" fill="#262834"/>
<rect x="1867.7" y="1083.7" width="4.200" height="22.500" fill="#262834"/>
<rect x="1875.0" y="1083.7" width="4.200" height="22.500" fill="#262834"/>
<rect x="1882.4" y="1083.7" width="4.200" height="22.500" fill="#262834"/>
<rect x="1889.8" y="1083.7" width="4.200" height="22.500" fill="#262834"/>
<rect x="1897.1" y="1083.7" width="4.200" height="22.500" fill="#262834"/>
<rect x="1904.5" y="1083.7" width="4.200" height="22.500" fill="#262834"/>
<rect x="1911.8" y="1083.7" width="4.200" height="22.500" fill="#262834"/>
<rect x="1919.2" y="1083.7" width="4.200" height="22.500" fill="#262834"/>
<rect x="1929.0" y="1069.2" width="28.800" height="37" fill="#a5adb4"/>
<rect x="1961.8" y="1069.2" width="6" height="37" fill="#262834"/><rect x="1971.0" y="1069.2" width="6" height="37" fill="#262834"/>
<rect x="1847.8" y="1115" width="143.2" height="46.4" fill="#343845"/>
<rect x="1986.0" y="1115" width="5" height="46.4" fill="#262834"/>
<rect x="1853.0" y="1120" width="71" height="10" fill="#a5adb4"/>
<rect x="1853.0" y="1134.5" width="4.200" height="22.500" fill="#262834"/>
<rect x="1860.3" y="1134.5" width="4.200" height="22.500" fill="#262834"/>
<rect x="1867.7" y="1134.5" width="4.200" height="22.500" fill="#262834"/>
<rect x="1875.0" y="1134.5" width="4.200" height="22.500" fill="#262834"/>
<rect x="1882.4" y="1134.5" width="4.200" height="22.500" fill="#262834"/>
<rect x="1889.8" y="1134.5" width="4.200" height="22.500" fill="#262834"/>
<rect x="1897.1" y="1134.5" width="4.200" height="22.500" fill="#262834"/>
<rect x="1904.5" y="1134.5" width="4.200" height="22.500" fill="#262834"/>
<rect x="1911.8" y="1134.5" width="4.200" height="22.500" fill="#262834"/>
<rect x="1919.2" y="1134.5" width="4.200" height="22.500" fill="#262834"/>
<rect x="1929.0" y="1120" width="28.800" height="37" fill="#a5adb4"/>
<rect x="1961.8" y="1120" width="6" height="37" fill="#262834"/><rect x="1971.0" y="1120" width="6" height="37" fill="#262834"/>
<rect x="1847.8" y="1166.2" width="143.2" height="40.6" fill="#343845"/>
<rect x="1986.0" y="1166.2" width="5" height="40.6" fill="#262834"/>
<circle cx="1857.1" cy="1173.0" r="2.700" fill="#4b5163"/>
<circle cx="1867.8" cy="1173.0" r="2.700" fill="#4b5163"/>
<circle cx="1878.4" cy="1173.0" r="2.700" fill="#4b5163"/>
<circle cx="1889.0" cy="1173.0" r="2.700" fill="#4b5163"/>
<circle cx="1899.7" cy="1173.0" r="2.700" fill="#4b5163"/>
<circle cx="1910.3" cy="1173.0" r="2.700" fill="#4b5163"/>
<circle cx="1921.0" cy="1173.0" r="2.700" fill="#4b5163"/>
<circle cx="1931.6" cy="1173.0" r="2.700" fill="#4b5163"/>
<circle cx="1942.3" cy="1173.0" r="2.700" fill="#4b5163"/>
<circle cx="1862.1" cy="1182.0" r="2.700" fill="#4b5163"/>
<circle cx="1872.8" cy="1182.0" r="2.700" fill="#4b5163"/>
<circle cx="1883.4" cy="1182.0" r="2.700" fill="#4b5163"/>
<circle cx="1894.0" cy="1182.0" r="2.700" fill="#4b5163"/>
<circle cx="1904.7" cy="1182.0" r="2.700" fill="#4b5163"/>
<circle cx="1915.3" cy="1182.0" r="2.700" fill="#4b5163"/>
<circle cx="1926.0" cy="1182.0" r="2.700" fill="#4b5163"/>
<circle cx="1936.6" cy="1182.0" r="2.700" fill="#4b5163"/>
<circle cx="1857.1" cy="1191.1" r="2.700" fill="#4b5163"/>
<circle cx="1867.8" cy="1191.1" r="2.700" fill="#4b5163"/>
<circle cx="1878.4" cy="1191.1" r="2.700" fill="#4b5163"/>
<circle cx="1889.0" cy="1191.1" r="2.700" fill="#4b5163"/>
<circle cx="1899.7" cy="1191.1" r="2.700" fill="#4b5163"/>
<circle cx="1910.3" cy="1191.1" r="2.700" fill="#4b5163"/>
<circle cx="1921.0" cy="1191.1" r="2.700" fill="#4b5163"/>
<circle cx="1931.6" cy="1191.1" r="2.700" fill="#4b5163"/>
<circle cx="1942.3" cy="1191.1" r="2.700" fill="#4b5163"/>
<circle cx="1862.1" cy="1200.2" r="2.700" fill="#4b5163"/>
<circle cx="1872.8" cy="1200.2" r="2.700" fill="#4b5163"/>
<circle cx="1883.4" cy="1200.2" r="2.700" fill="#4b5163"/>
<circle cx="1894.0" cy="1200.2" r="2.700" fill="#4b5163"/>
<circle cx="1904.7" cy="1200.2" r="2.700" fill="#4b5163"/>
<circle cx="1915.3" cy="1200.2" r="2.700" fill="#4b5163"/>
<circle cx="1926.0" cy="1200.2" r="2.700" fill="#4b5163"/>
<circle cx="1936.6" cy="1200.2" r="2.700" fill="#4b5163"/>
<rect x="1950.0" y="1170.0" width="31.300" height="21.300" fill="#a5adb4"/>
<ellipse cx="1953.0" cy="1200.2" rx="3.300" ry="2.800" fill="#4db04b"/>
<ellipse cx="1965.2" cy="1200.2" rx="3.300" ry="2.800" fill="#4db04b"/>
<ellipse cx="1977.2" cy="1200.2" rx="3.300" ry="2.800" fill="#4db04b"/>
<rect x="1847.8" y="1211.3" width="143.2" height="40.6" fill="#343845"/>
<rect x="1986.0" y="1211.3" width="5" height="40.6" fill="#262834"/>
<circle cx="1857.1" cy="1218.1" r="2.700" fill="#4b5163"/>
<circle cx="1867.8" cy="1218.1" r="2.700" fill="#4b5163"/>
<circle cx="1878.4" cy="1218.1" r="2.700" fill="#4b5163"/>
<circle cx="1889.0" cy="1218.1" r="2.700" fill="#4b5163"/>
<circle cx="1899.7" cy="1218.1" r="2.700" fill="#4b5163"/>
<circle cx="1910.3" cy="1218.1" r="2.700" fill="#4b5163"/>
<circle cx="1921.0" cy="1218.1" r="2.700" fill="#4b5163"/>
<circle cx="1931.6" cy="1218.1" r="2.700" fill="#4b5163"/>
<circle cx="1942.3" cy="1218.1" r="2.700" fill="#4b5163"/>
<circle cx="1862.1" cy="1227.1" r="2.700" fill="#4b5163"/>
<circle cx="1872.8" cy="1227.1" r="2.700" fill="#4b5163"/>
<circle cx="1883.4" cy="1227.1" r="2.700" fill="#4b5163"/>
<circle cx="1894.0" cy="1227.1" r="2.700" fill="#4b5163"/>
<circle cx="1904.7" cy="1227.1" r="2.700" fill="#4b5163"/>
<circle cx="1915.3" cy="1227.1" r="2.700" fill="#4b5163"/>
<circle cx="1926.0" cy="1227.1" r="2.700" fill="#4b5163"/>
<circle cx="1936.6" cy="1227.1" r="2.700" fill="#4b5163"/>
<circle cx="1857.1" cy="1236.2" r="2.700" fill="#4b5163"/>
<circle cx="1867.8" cy="1236.2" r="2.700" fill="#4b5163"/>
<circle cx="1878.4" cy="1236.2" r="2.700" fill="#4b5163"/>
<circle cx="1889.0" cy="1236.2" r="2.700" fill="#4b5163"/>
<circle cx="1899.7" cy="1236.2" r="2.700" fill="#4b5163"/>
<circle cx="1910.3" cy="1236.2" r="2.700" fill="#4b5163"/>
<circle cx="1921.0" cy="1236.2" r="2.700" fill="#4b5163"/>
<circle cx="1931.6" cy="1236.2" r="2.700" fill="#4b5163"/>
<circle cx="1942.3" cy="1236.2" r="2.700" fill="#4b5163"/>
<circle cx="1862.1" cy="1245.2" r="2.700" fill="#4b5163"/>
<circle cx="1872.8" cy="1245.2" r="2.700" fill="#4b5163"/>
<circle cx="1883.4" cy="1245.2" r="2.700" fill="#4b5163"/>
<circle cx="1894.0" cy="1245.2" r="2.700" fill="#4b5163"/>
<circle cx="1904.7" cy="1245.2" r="2.700" fill="#4b5163"/>
<circle cx="1915.3" cy="1245.2" r="2.700" fill="#4b5163"/>
<circle cx="1926.0" cy="1245.2" r="2.700" fill="#4b5163"/>
<circle cx="1936.6" cy="1245.2" r="2.700" fill="#4b5163"/>
<rect x="1950.0" y="1215.1" width="31.300" height="21.300" fill="#a5adb4"/>
<ellipse cx="1953.0" cy="1245.3" rx="3.300" ry="2.800" fill="#4db04b"/>
<ellipse cx="1965.2" cy="1245.3" rx="3.300" ry="2.800" fill="#4db04b"/>
<ellipse cx="1977.2" cy="1245.3" rx="3.300" ry="2.800" fill="#4db04b"/>
<rect x="1847.8" y="1256.8" width="143.2" height="40.7" fill="#ffffff"/>
<rect x="1986.0" y="1256.8" width="5" height="40.7" fill="#c3c3c3"/>
<rect x="1853.0" y="1261.8" width="4.500" height="32" rx="2.200" fill="#343845"/>
<rect x="1862.2" y="1261.8" width="4.500" height="32" rx="2.200" fill="#343845"/>
<rect x="1871.4" y="1261.8" width="4.500" height="32" rx="2.200" fill="#343845"/>
<rect x="1880.6" y="1261.8" width="4.500" height="32" rx="2.200" fill="#343845"/>
<rect x="1889.8" y="1261.8" width="4.500" height="32" rx="2.200" fill="#343845"/>
<rect x="1899.0" y="1261.8" width="4.500" height="32" rx="2.200" fill="#343845"/>
<rect x="1908.2" y="1261.8" width="4.500" height="32" rx="2.200" fill="#343845"/>
<rect x="1917.4" y="1261.8" width="4.500" height="32" rx="2.200" fill="#343845"/>
<rect x="1926.6" y="1261.8" width="4.500" height="32" rx="2.200" fill="#343845"/>
<rect x="1935.8" y="1261.8" width="4.500" height="32" rx="2.200" fill="#343845"/>
<rect x="1945.0" y="1261.8" width="4.500" height="32" rx="2.200" fill="#343845"/>
<rect x="1962.3" y="1261.8" width="19.500" height="12" fill="#343845"/><rect x="1964.8" y="1267.3" width="14.500" height="4.500" fill="#c3c3c3"/>
<rect x="1962.3" y="1279.8" width="19.500" height="12" fill="#343845"/><rect x="1964.8" y="1285.3" width="14.500" height="4.500" fill="#c3c3c3"/>
</g>
<g id="bottom">
<rect x="71.500" y="1509" width="2044.500" height="436" fill="#eaeef1"/>
<path class="ld" d="M223.3 1419 H2006.5"/>
<path class="ld" d="M223.3 1419 V1590"/>
<use href="#dhead" fill="#55626e" transform="translate(223.3 1613)"/>
<path class="ld" d="M520.3 1419 V1594"/>
<use href="#dhead" fill="#55626e" transform="translate(520.3 1613) scale(0.8)"/>
<path class="ld" d="M817.5 1419 V1594"/>
<use href="#dhead" fill="#55626e" transform="translate(817.5 1613) scale(0.8)"/>
<path class="ld" d="M1114.8 1419 V1594"/>
<use href="#dhead" fill="#55626e" transform="translate(1114.8 1613) scale(0.8)"/>
<path class="ld" d="M1412 1419 V1594"/>
<use href="#dhead" fill="#55626e" transform="translate(1412 1613) scale(0.8)"/>
<path class="ld" d="M1709.3 1419 V1594"/>
<use href="#dhead" fill="#55626e" transform="translate(1709.3 1613) scale(0.8)"/>
<path class="ld" d="M2006.5 1419 V1590"/>
<use href="#dhead" fill="#55626e" transform="translate(2006.5 1613)"/>
</g>
<g id="photos" filter="url(#ph)">
<g id="ph1">
<path d="M259 1626 L282.500 1626 V1830 L259 1851 Z" fill="url(#phS)"/>
<path d="M262 1630 H281 V1640 H262 Z" fill="#cfd2d8"/>
<path d="M262 1815 L281 1800 V1828 L262 1846 Z" fill="#d0d2d8"/>
<rect x="264" y="1680" width="2.500" height="16" fill="#9a9ca4"/><rect x="277" y="1678" width="3" height="16" fill="#9a9ca4"/>
<rect x="166.500" y="1624" width="81.500" height="219" fill="url(#phA)"/>
<rect x="165.500" y="1620" width="117.500" height="12" fill="#c9cdd7"/><rect x="166.500" y="1632" width="2.500" height="210" fill="#c3c8d4"/>
<rect x="247.500" y="1632" width="11.800" height="212" fill="url(#phB)"/>
<rect x="182.500" y="1662.500" width="58" height="82.500" fill="url(#phW)"/>
<rect x="184" y="1686" width="54" height="14" fill="#0c0e13"/>
<rect x="182.500" y="1649" width="57" height="6" fill="#aeb4c2"/>
<rect x="183" y="1641" width="28" height="3" fill="#c3c7d2"/>
<rect x="172" y="1720" width="6.500" height="20" fill="#3b3e48"/>
<rect x="191" y="1798" width="38" height="5" fill="#c2c6d0"/>
<path d="M168 1840 H250 L259 1852 H178 Z" fill="#c9ccd3"/>
<rect x="176" y="1843" width="12" height="7" fill="#3a3c42"/><rect x="248" y="1849" width="11" height="7" fill="#3a3c42"/>
</g>
<g id="ph2">
<path d="M371 1688 L465 1667.500 L667 1677 V1684 L658 1706 L373 1693 Z" fill="url(#emT)"/>
<path d="M658 1706 L667 1684 V1742 L658 1750 Z" fill="#8d9295"/>
<path d="M373 1692 L658 1705 V1791 L373 1764 Z" fill="url(#emF)"/>
<path d="M392 1698 L408 1699 V1760 L392 1758.500 Z" fill="#c9ccd2"/>
<path d="M396 1702 L400 1702.300 V1750 L396 1749.600 Z" fill="#8d9096"/>
<path d="M410 1703 L516 1709 V1769 L410 1759 Z" fill="#0e0f12"/>
<path d="M466 1714 L514 1717 V1762 L466 1757 Z" fill="#10261f"/>
<rect x="470" y="1719.5" width="10" height="6.500" rx="1" fill="#a98fa3"/>
<rect x="485" y="1720.4" width="10" height="6.500" rx="1" fill="#928a98"/>
<rect x="500" y="1721.3" width="10" height="6.500" rx="1" fill="#a3a4ac"/>
<rect x="470" y="1732.5" width="10" height="6.500" rx="1" fill="#9fa5a6"/>
<rect x="485" y="1733.4" width="10" height="6.500" rx="1" fill="#a3a9a8"/>
<rect x="500" y="1734.3" width="10" height="6.500" rx="1" fill="#8f9c93"/>
<rect x="470" y="1745.5" width="10" height="6.500" rx="1" fill="#92b79c"/>
<rect x="485" y="1746.4" width="10" height="6.500" rx="1" fill="#b08894"/>
<rect x="500" y="1747.3" width="10" height="6.500" rx="1" fill="#c8556c"/>
<path d="M497 1746 L514 1747 V1756 L497 1755 Z" fill="#8f1532" opacity="0.7"/>
<path d="M534 1714 L580 1716.500 V1721 L534 1718.500 Z" fill="#a7a9bb"/>
<path d="M585 1717 L596 1718 V1774 L585 1773 Z" fill="#3e4047"/>
<path d="M586.500 1738 L594.500 1738.500 V1756 L586.500 1755.500 Z" fill="#9a9da4"/>
<path d="M616 1713 L628 1714 V1783 L616 1782 Z" fill="#a6a8ae"/>
<path d="M617.500 1722 L623 1722.500 V1778 L617.500 1777.500 Z" fill="#f3f4f6"/>
<path d="M535 1762 L568 1765 V1769 L535 1766 Z" fill="#9a9ca3"/>
</g>
<g id="ph3">
<ellipse cx="877" cy="1703" rx="40" ry="56" transform="rotate(22 877 1703)" fill="#141416"/>
<ellipse cx="866" cy="1707" rx="36" ry="54" transform="rotate(22 866 1707)" fill="#26272a"/>
<path d="M905 1682 L924 1682 V1726 L908 1735 Z" fill="#0a0a0b"/>
<rect x="846" y="1752" width="20" height="18" fill="#1c1c1e" transform="rotate(-25 856 1761)"/>
<path d="M722 1722 L838 1660 L872 1744 L778 1806 Z" fill="url(#dmB)"/>
<path d="M770 1712 L850 1672 L858 1690 L780 1734 Z" fill="#6a7078" opacity="0.6"/>
<ellipse cx="750" cy="1766" rx="36" ry="47" transform="rotate(-14 750 1766)" fill="#1a1b1d"/>
<ellipse cx="757" cy="1765" rx="28" ry="38" transform="rotate(-14 757 1765)" fill="url(#dmL)"/>
</g>
<g id="ph4">
<path d="M1125 1662 C1085 1658 1062 1664 1060 1688 C1058 1730 1078 1760 1080 1790 C1080 1806 1064 1810 1046 1810" fill="none" stroke="#23272d" stroke-width="4.800"/>
<path d="M1053 1668 L1031 1778" fill="none" stroke="#a8a7a8" stroke-width="5.500"/>
<path d="M1051.500 1668 L1030 1776" fill="none" stroke="#e6e6ea" stroke-width="1.500"/>
<rect x="1015" y="1757" width="39" height="8.500" fill="#e6e4e2"/>
<rect x="1027" y="1762" width="10" height="16" fill="#8e8c8c"/>
<path d="M1009 1777 H1046 V1828 H1012 Z" fill="#c3c7d3"/>
<rect x="1093" y="1748.500" width="35" height="69" fill="#c3c5cb"/>
<rect x="1099" y="1754" width="14" height="6" fill="#26272b"/><rect x="1106" y="1768" width="13" height="16" fill="#1d1e22"/><rect x="1110" y="1784" width="10" height="6" fill="#3a6fc0"/><rect x="1100" y="1810" width="14" height="6" fill="#26272b"/><rect x="1112" y="1790" width="6" height="18" fill="#9a938e"/>
<rect x="1119.500" y="1634" width="8.500" height="190" fill="#cfcfd2"/>
<rect x="1122" y="1708" width="6" height="18" fill="#5a5b5f"/>
<rect x="1127.500" y="1638" width="91" height="184" fill="url(#d3B)"/>
<rect x="1217" y="1640" width="5.500" height="178" fill="#c9cbd3"/>
<rect x="1217" y="1722" width="5.500" height="11" fill="#77787c"/><rect x="1217" y="1790" width="5.500" height="11" fill="#77787c"/>
<circle cx="1128.500" cy="1634" r="5" fill="none" stroke="#d9dade" stroke-width="2.500"/><circle cx="1208" cy="1634.500" r="5" fill="none" stroke="#d9dade" stroke-width="2.500"/>
<rect x="1145.500" y="1684" width="59.500" height="7.500" fill="#9b9da3"/>
<rect x="1186" y="1645" width="28" height="5.500" fill="#a3a5ab"/>
<rect x="1142.500" y="1723" width="8" height="35" fill="#6a6b72"/><rect x="1144.500" y="1723" width="4" height="6" fill="#e8e8e0"/>
<rect x="1149.500" y="1785.500" width="34" height="7.500" fill="#6f95d6" opacity="0.8"/><rect x="1186" y="1785" width="14" height="6" fill="#a6a8b0"/>
<rect x="1128" y="1823" width="18" height="8" fill="#6c6d70"/><rect x="1192" y="1818" width="25" height="9" fill="#66676a"/>
</g>
<g id="ph5">
<rect x="1305.500" y="1680" width="19" height="58" fill="url(#hmG)"/><rect x="1305.500" y="1746.500" width="19" height="29" fill="#7fb27a"/><rect x="1311" y="1738" width="13" height="38" fill="#4c8a50"/>
<rect x="1498.500" y="1686" width="18.500" height="66" fill="url(#hmG)"/>
<rect x="1323.500" y="1668.500" width="175.500" height="122.500" fill="url(#hmB)"/>
<rect x="1325" y="1668.500" width="174" height="4" fill="#b3b6bd"/>
<rect x="1326" y="1672" width="26" height="118" fill="#0a1220" opacity="0.7"/><rect x="1472" y="1672" width="27" height="118" fill="#161a26" opacity="0.7"/>
<rect x="1380" y="1725.500" width="65.500" height="10" fill="#b5bfca"/>
<rect x="1347" y="1684" width="5.500" height="16" fill="#8f8f9c"/><rect x="1347" y="1712" width="4" height="20" fill="#5e6475"/>
<rect x="1333" y="1750" width="11" height="4" fill="#9ea6ad"/><rect x="1333" y="1759" width="11" height="3.500" fill="#8d979f"/><rect x="1333" y="1766" width="9" height="5" fill="#7f8da3"/>
<rect x="1481" y="1687" width="6.500" height="38" fill="#6e7080"/>
<rect x="1478" y="1732" width="12" height="3" fill="#8f98a3"/><rect x="1478" y="1738" width="12" height="8" fill="#7b8791"/><rect x="1478" y="1748" width="12" height="3" fill="#8f98a3"/><rect x="1466" y="1734" width="6" height="12" fill="#7a90a0"/>
<rect x="1418" y="1776.500" width="42" height="3" fill="#c7d0d6"/>
</g>
<g id="ph6">
<path d="M1778 1680 L1828 1668.500 V1676.500 L1780 1690 Z" fill="#bdbdbf"/>
<path d="M1706 1674 L1736 1672 L1746 1660.500 H1766 L1778 1676 L1780 1700 L1772 1724 L1746 1728 L1740 1700 Z" fill="#a3a3a5"/>
<path d="M1748 1706 L1778 1700 L1772 1724 L1746 1728 Z" fill="#6f716f"/>
<path d="M1744 1690 L1778 1684 V1700 L1746 1706 Z" fill="#e6e1ee"/>
<path d="M1596 1680 C1620 1670 1700 1670 1743 1677 V1700 H1690 L1672 1695 H1592 Z" fill="#e4eaf3"/>
<path d="M1592 1692 Q1591 1686 1598 1684 H1676 L1688 1700 V1798 H1660 L1600 1778 Q1593 1774 1593 1766 Z" fill="url(#ptL)"/>
<path d="M1604.500 1715.500 L1640 1719 V1726.500 L1604.500 1722 Z" fill="#3770b8"/><rect x="1638" y="1723.500" width="24" height="7" fill="#2a7bc4"/>
<rect x="1596" y="1706" width="66" height="8" fill="#9db6dc" opacity="0.7"/>
<rect x="1614" y="1754" width="24" height="5" fill="#8b93a5"/>
<rect x="1674" y="1702" width="12.500" height="24" fill="#3a3a44"/><rect x="1675" y="1770" width="12" height="26" fill="#23272b"/>
<rect x="1686.500" y="1698" width="57" height="90" fill="url(#ptC2)"/>
<path d="M1686.500 1788 H1743.500 Q1740 1794 1715 1794 Q1695 1794 1686.500 1788 Z" fill="#c3c5cc"/>
</g>
<g id="ph7">
<path d="M2050 1674.500 L2085 1667 V1681 L2052 1687 Z" fill="#cfcdcc"/><path d="M2050 1677 L2085 1670.500 V1674 L2052 1681 Z" fill="#ffffff"/>
<path d="M2026 1660 L2036 1658.500 L2048 1668 L2054 1698 L2047 1711 L2041 1712 Z" fill="#7d7f83"/>
<path d="M1975.500 1780 L2012 1767 L2025.500 1764.500 V1796.500 L2007.500 1802 Z" fill="#5d6168"/><path d="M2012 1767 L2025.500 1764.500 V1796.500 L2011 1801 Z" fill="#9aa0a7"/>
<rect x="1941" y="1785" width="13" height="8" fill="#34363a"/>
<path d="M1893 1680 L1946.500 1715.800 L1949.200 1786.700 L1895 1753.500 Z" fill="#989ca8"/>
<path d="M1946.500 1715.800 L2042.200 1689.400 L2040.800 1749.200 L1949.200 1786.700 Z" fill="#a8acb5"/>
<path d="M1896.500 1677.600 L1988 1656.800 L2034 1670 L2042.200 1689.400 L1946.500 1715.800 Z" fill="#cdd2e0"/>
<path d="M1939 1698 L2033 1672 L2042.200 1689.400 L1946.500 1715.800 Z" fill="#e6eaf4"/>
<path d="M1895 1690 L1919 1702 V1706 L1895 1694 Z" fill="#6c8ab8"/>
</g>
</g>
<g id="labels" opacity="0.999">
<text transform="translate(90.1 350.2) scale(1.046 1)" style="font-size:28px;letter-spacing:0.6px">采样探头</text>
<text transform="translate(90.1 548.2) scale(1.046 1)" style="font-size:28px;letter-spacing:0.6px">温压流</text>
<text transform="translate(90.1 715.7) scale(1.046 1)" style="font-size:28px;letter-spacing:0.6px">湿度仪</text>
<text transform="translate(90.1 940.2) scale(1.046 1)" style="font-size:28px;letter-spacing:0.6px">抽取粉尘仪</text>
<text transform="translate(90.1 975.7) scale(1.046 1)" style="font-size:28px;letter-spacing:0.6px">采样探头</text>
<text transform="translate(631.4 282.7) scale(1.046 1)" class="o" style="font-size:28px;letter-spacing:0.4px">伴热管</text>
<text transform="translate(343.9 1135.2) scale(1.046 1)" class="o" style="font-size:28px;letter-spacing:0.4px">伴热管</text>
<text transform="translate(456.4 1375.2) scale(1.046 1)" style="font-size:28px;letter-spacing:0.4px">抽取粉尘仪</text>
<text transform="translate(991.4 1363.7) scale(1.046 1)" class="g" style="font-size:28px;letter-spacing:0.4px">反吹气路</text>
<text transform="translate(1077.4 536.2) scale(1.046 1)" style="font-size:28px;letter-spacing:0.3px">空调</text>
<text transform="translate(1215.8 860.2) scale(1.046 1)" style="font-size:28px;letter-spacing:0.6px">系统</text>
<text transform="translate(1284.8 1134.2) scale(1.046 1)" style="font-size:28px;letter-spacing:0.6px">空压机</text>
<text transform="translate(1426.1 1065.2) scale(1.046 1)" style="font-size:28px;letter-spacing:0.3px">标气</text>
<text transform="translate(1397.4 757.7) scale(1.046 1)" style="font-size:28px;letter-spacing:0.4px">数采仪</text>
<text transform="translate(1418.4 225.2) scale(1.046 1)" style="font-size:28px;letter-spacing:0.4px">互联网</text>
<text transform="translate(1923.3 435.5) scale(1.046 1)" text-anchor="middle" style="font-size:28px;letter-spacing:0.6px">环保局监控中心</text>
<text transform="translate(1923.3 825.5) scale(1.046 1)" text-anchor="middle" style="font-size:28px;letter-spacing:0.6px">企业客户端</text>
<text transform="translate(1739.800 1363.300) scale(1.046 1)" style="font-size:28px;letter-spacing:0.5px">分布式计算机控制系统<tspan dx="0.5" style="letter-spacing:0">/</tspan><tspan dx="3.6" textLength="54.3" lengthAdjust="spacingAndGlyphs" style="letter-spacing:0">DCS</tspan></text>
<text x="863" y="738.800" style="font-size:25px" textLength="166.500" lengthAdjust="spacingAndGlyphs">RS485/220VAC</text>
<text x="1630" y="887.500" style="font-size:25px" text-anchor="middle" textLength="87.500" lengthAdjust="spacingAndGlyphs">4-20mA</text>
<text x="1630" y="916" style="font-size:25px" text-anchor="middle" textLength="69.500" lengthAdjust="spacingAndGlyphs">RS485</text>
<text x="1679.500" y="1115" style="font-size:25px" text-anchor="middle" textLength="87.500" lengthAdjust="spacingAndGlyphs">4-20mA</text>
<text x="1679.500" y="1143.500" style="font-size:25px" text-anchor="middle" textLength="69.500" lengthAdjust="spacingAndGlyphs">RS485</text>
<text x="1679.500" y="1172.500" style="font-size:24px" text-anchor="middle">开关量</text>
<text y="1888.300" class="t25"><tspan x="142.1" textLength="129.4" lengthAdjust="spacingAndGlyphs" style="font-size:25.6px">CEMS-5000</tspan><tspan x="277.4">型</tspan></text>
<text x="223.6" y="1923.300" class="t25" text-anchor="middle" style="letter-spacing:0.25px">烟气排放连续监测系统</text>
<text y="1888.300" class="t25"><tspan x="475.6" textLength="56.4" lengthAdjust="spacingAndGlyphs" style="font-size:25.6px">EM-5</tspan><tspan x="537.9">型</tspan></text>
<text x="520.6" y="1923.300" class="t25" text-anchor="middle" style="letter-spacing:0.25px">烟气分析仪</text>
<text y="1888.300" class="t25"><tspan x="750.0" textLength="101.9" lengthAdjust="spacingAndGlyphs" style="font-size:25.6px">DMS-100</tspan><tspan x="857.8">型</tspan></text>
<text x="817.8" y="1923.300" class="t25" text-anchor="middle" style="letter-spacing:0.25px">粉尘浓度测量仪</text>
<text y="1888.300" class="t25"><tspan x="1047.3" textLength="101.9" lengthAdjust="spacingAndGlyphs" style="font-size:25.6px">DMS-300</tspan><tspan x="1155.2">型</tspan></text>
<text x="1115.1" y="1923.300" class="t25" text-anchor="middle" style="letter-spacing:0.25px">粉尘浓度测量仪</text>
<text y="1888.300" class="t25"><tspan x="1325.5" textLength="140" lengthAdjust="spacingAndGlyphs" style="font-size:25.6px">HMS-1000-A</tspan><tspan x="1471.4">型</tspan></text>
<text x="1412.3" y="1923.300" class="t25" text-anchor="middle" style="letter-spacing:0.25px">湿度测量仪</text>
<text y="1888.300" class="t25"><tspan x="1654.4" textLength="76.7" lengthAdjust="spacingAndGlyphs" style="font-size:25.6px">PT-500</tspan><tspan x="1737.0">型</tspan></text>
<text x="1709.6" y="1923.300" class="t25" text-anchor="middle" style="letter-spacing:0.25px">温压流一体化监测仪</text>
<text y="1888.300" class="t25"><tspan x="1942.0" textLength="96" lengthAdjust="spacingAndGlyphs" style="font-size:25.6px">GSP-100</tspan><tspan x="2043.9">型</tspan></text>
<text x="2006.8" y="1923.300" class="t25" text-anchor="middle" style="letter-spacing:0.25px">采样探头</text>
</g>
</svg>
</body>
</html>
